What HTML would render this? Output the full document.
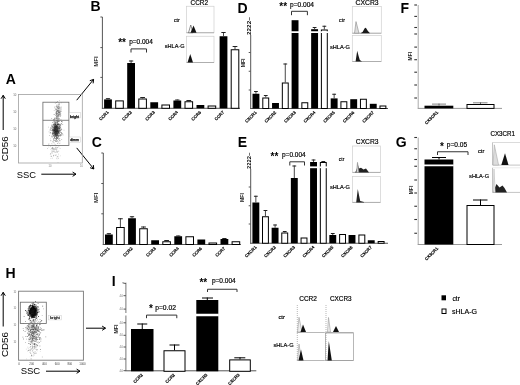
<!DOCTYPE html>
<html><head><meta charset="utf-8"><style>
html,body{margin:0;padding:0;background:#fff;}
svg{display:block;will-change:transform;}
svg text{font-family:"Liberation Sans",sans-serif;}
</style></head><body>
<svg width="520" height="385" viewBox="0 0 520 385">
<rect width="520" height="385" fill="#fff"/>
<text x="5.8" y="84.2" font-size="14" text-anchor="start" font-weight="bold" fill="#000">A</text>
<text x="90.6" y="11.2" font-size="14" text-anchor="start" font-weight="bold" fill="#000">B</text>
<text x="91.8" y="147.4" font-size="14" text-anchor="start" font-weight="bold" fill="#000">C</text>
<text x="237.6" y="12.6" font-size="14" text-anchor="start" font-weight="bold" fill="#000">D</text>
<text x="237.8" y="147.2" font-size="14" text-anchor="start" font-weight="bold" fill="#000">E</text>
<text x="400.4" y="12.6" font-size="14" text-anchor="start" font-weight="bold" fill="#000">F</text>
<text x="395.8" y="147.2" font-size="14" text-anchor="start" font-weight="bold" fill="#000">G</text>
<text x="5.6" y="277.5" font-size="14" text-anchor="start" font-weight="bold" fill="#000">H</text>
<text x="111.7" y="286" font-size="14" text-anchor="start" font-weight="bold" fill="#000">I</text>
<line x1="102.4" y1="17" x2="102.4" y2="108.8" stroke="#555" stroke-width="1"/>
<line x1="101.9" y1="108.3" x2="240" y2="108.3" stroke="#555" stroke-width="1"/>
<line x1="100.4" y1="17" x2="102.4" y2="17" stroke="#555" stroke-width="1"/>
<line x1="100.4" y1="47.6" x2="102.4" y2="47.6" stroke="#555" stroke-width="1"/>
<line x1="100.4" y1="77.4" x2="102.4" y2="77.4" stroke="#555" stroke-width="1"/>
<rect x="104.1" y="99.4" width="7.8" height="8.899999999999991" fill="#000" stroke="none" stroke-width="1"/>
<line x1="108.0" y1="98.2" x2="108.0" y2="99.4" stroke="#333" stroke-width="0.9"/>
<line x1="105.855" y1="98.7" x2="110.145" y2="98.7" stroke="#222" stroke-width="1"/>
<rect x="115.7" y="100.9" width="7.6" height="7.3999999999999915" fill="#fff" stroke="#000" stroke-width="1"/>
<text x="109.0" y="112.6" font-size="4.3" text-anchor="end" font-weight="bold" stroke="#000" stroke-width="0.12" transform="rotate(-45 109.0 112.6)">CCR1</text>
<rect x="127.19999999999999" y="63" width="7.8" height="45.3" fill="#000" stroke="none" stroke-width="1"/>
<line x1="131.1" y1="60.5" x2="131.1" y2="63" stroke="#333" stroke-width="0.9"/>
<line x1="128.95499999999998" y1="61.0" x2="133.245" y2="61.0" stroke="#222" stroke-width="1"/>
<rect x="138.8" y="99.0" width="7.6" height="9.299999999999997" fill="#fff" stroke="#000" stroke-width="1"/>
<line x1="142.60000000000002" y1="97" x2="142.60000000000002" y2="98.5" stroke="#333" stroke-width="0.9"/>
<line x1="140.235" y1="97.5" x2="144.96500000000003" y2="97.5" stroke="#222" stroke-width="1"/>
<text x="132.1" y="112.6" font-size="4.3" text-anchor="end" font-weight="bold" stroke="#000" stroke-width="0.12" transform="rotate(-45 132.1 112.6)">CCR2</text>
<rect x="150.3" y="102.25" width="7.8" height="6.049999999999997" fill="#000" stroke="none" stroke-width="1"/>
<rect x="161.9" y="105.0" width="7.6" height="3.299999999999997" fill="#fff" stroke="#000" stroke-width="1"/>
<text x="155.20000000000002" y="112.6" font-size="4.3" text-anchor="end" font-weight="bold" stroke="#000" stroke-width="0.12" transform="rotate(-45 155.20000000000002 112.6)">CCR3</text>
<rect x="173.4" y="100.5" width="7.8" height="7.799999999999997" fill="#000" stroke="none" stroke-width="1"/>
<line x1="177.3" y1="99.5" x2="177.3" y2="100.5" stroke="#333" stroke-width="0.9"/>
<line x1="175.155" y1="100.0" x2="179.44500000000002" y2="100.0" stroke="#222" stroke-width="1"/>
<rect x="185.0" y="101.75" width="7.6" height="6.549999999999997" fill="#fff" stroke="#000" stroke-width="1"/>
<line x1="188.8" y1="100" x2="188.8" y2="101.25" stroke="#333" stroke-width="0.9"/>
<line x1="186.435" y1="100.5" x2="191.16500000000002" y2="100.5" stroke="#222" stroke-width="1"/>
<text x="178.3" y="112.6" font-size="4.3" text-anchor="end" font-weight="bold" stroke="#000" stroke-width="0.12" transform="rotate(-45 178.3 112.6)">CCR4</text>
<rect x="196.5" y="105" width="7.8" height="3.299999999999997" fill="#000" stroke="none" stroke-width="1"/>
<rect x="208.10000000000002" y="106.0" width="7.6" height="2.299999999999997" fill="#fff" stroke="#000" stroke-width="1"/>
<text x="201.4" y="112.6" font-size="4.3" text-anchor="end" font-weight="bold" stroke="#000" stroke-width="0.12" transform="rotate(-45 201.4 112.6)">CCR6</text>
<rect x="219.6" y="36.25" width="7.8" height="72.05" fill="#000" stroke="none" stroke-width="1"/>
<line x1="223.5" y1="32" x2="223.5" y2="36.25" stroke="#333" stroke-width="0.9"/>
<line x1="221.355" y1="32.5" x2="225.645" y2="32.5" stroke="#222" stroke-width="1"/>
<rect x="231.2" y="49.75" width="7.6" height="58.55" fill="#fff" stroke="#000" stroke-width="1"/>
<line x1="235.0" y1="46" x2="235.0" y2="49.25" stroke="#333" stroke-width="0.9"/>
<line x1="232.635" y1="46.5" x2="237.365" y2="46.5" stroke="#222" stroke-width="1"/>
<text x="224.5" y="112.6" font-size="4.3" text-anchor="end" font-weight="bold" stroke="#000" stroke-width="0.12" transform="rotate(-45 224.5 112.6)">CCR7</text>
<text x="97.9" y="61.5" font-size="6" text-anchor="middle" font-weight="bold" fill="#222" transform="rotate(-90 97.9 61.5)">MFI</text>
<line x1="103.30000000000001" y1="153" x2="103.30000000000001" y2="245.0" stroke="#555" stroke-width="1"/>
<line x1="102.80000000000001" y1="244.5" x2="240.9" y2="244.5" stroke="#555" stroke-width="1"/>
<line x1="101.30000000000001" y1="153" x2="103.30000000000001" y2="153" stroke="#555" stroke-width="1"/>
<line x1="101.30000000000001" y1="183.5" x2="103.30000000000001" y2="183.5" stroke="#555" stroke-width="1"/>
<line x1="101.30000000000001" y1="213.8" x2="103.30000000000001" y2="213.8" stroke="#555" stroke-width="1"/>
<rect x="105.0" y="234.5" width="7.8" height="10.0" fill="#000" stroke="none" stroke-width="1"/>
<line x1="108.9" y1="233.2" x2="108.9" y2="234.5" stroke="#333" stroke-width="0.9"/>
<line x1="106.75500000000001" y1="233.7" x2="111.045" y2="233.7" stroke="#222" stroke-width="1"/>
<rect x="116.60000000000001" y="227.5" width="7.6" height="17.0" fill="#fff" stroke="#000" stroke-width="1"/>
<line x1="120.4" y1="218.25" x2="120.4" y2="227" stroke="#333" stroke-width="0.9"/>
<line x1="118.03500000000001" y1="218.75" x2="122.765" y2="218.75" stroke="#222" stroke-width="1"/>
<text x="109.9" y="248.8" font-size="4.3" text-anchor="end" font-weight="bold" stroke="#000" stroke-width="0.12" transform="rotate(-45 109.9 248.8)">CCR1</text>
<rect x="128.1" y="218.25" width="7.8" height="26.25" fill="#000" stroke="none" stroke-width="1"/>
<line x1="132.0" y1="216.25" x2="132.0" y2="218.25" stroke="#333" stroke-width="0.9"/>
<line x1="129.855" y1="216.75" x2="134.145" y2="216.75" stroke="#222" stroke-width="1"/>
<rect x="139.70000000000002" y="228.75" width="7.6" height="15.75" fill="#fff" stroke="#000" stroke-width="1"/>
<line x1="143.50000000000003" y1="226.5" x2="143.50000000000003" y2="228.25" stroke="#333" stroke-width="0.9"/>
<line x1="141.13500000000002" y1="227.0" x2="145.86500000000004" y2="227.0" stroke="#222" stroke-width="1"/>
<text x="133.0" y="248.8" font-size="4.3" text-anchor="end" font-weight="bold" stroke="#000" stroke-width="0.12" transform="rotate(-45 133.0 248.8)">CCR2</text>
<rect x="151.20000000000002" y="240.25" width="7.8" height="4.25" fill="#000" stroke="none" stroke-width="1"/>
<rect x="162.8" y="241.75" width="7.6" height="2.75" fill="#fff" stroke="#000" stroke-width="1"/>
<line x1="166.60000000000002" y1="240" x2="166.60000000000002" y2="241.25" stroke="#333" stroke-width="0.9"/>
<line x1="164.235" y1="240.5" x2="168.96500000000003" y2="240.5" stroke="#222" stroke-width="1"/>
<text x="156.10000000000002" y="248.8" font-size="4.3" text-anchor="end" font-weight="bold" stroke="#000" stroke-width="0.12" transform="rotate(-45 156.10000000000002 248.8)">CCR3</text>
<rect x="174.3" y="236.25" width="7.8" height="8.25" fill="#000" stroke="none" stroke-width="1"/>
<line x1="178.20000000000002" y1="235.5" x2="178.20000000000002" y2="236.25" stroke="#333" stroke-width="0.9"/>
<line x1="176.055" y1="236.0" x2="180.34500000000003" y2="236.0" stroke="#222" stroke-width="1"/>
<rect x="185.9" y="236.75" width="7.6" height="7.75" fill="#fff" stroke="#000" stroke-width="1"/>
<text x="179.20000000000002" y="248.8" font-size="4.3" text-anchor="end" font-weight="bold" stroke="#000" stroke-width="0.12" transform="rotate(-45 179.20000000000002 248.8)">CCR4</text>
<rect x="197.4" y="239.5" width="7.8" height="5.0" fill="#000" stroke="none" stroke-width="1"/>
<rect x="209.00000000000003" y="243.0" width="7.6" height="1.5" fill="#fff" stroke="#000" stroke-width="1"/>
<text x="202.3" y="248.8" font-size="4.3" text-anchor="end" font-weight="bold" stroke="#000" stroke-width="0.12" transform="rotate(-45 202.3 248.8)">CCR6</text>
<rect x="220.5" y="239" width="7.8" height="5.5" fill="#000" stroke="none" stroke-width="1"/>
<line x1="224.4" y1="238" x2="224.4" y2="239" stroke="#333" stroke-width="0.9"/>
<line x1="222.255" y1="238.5" x2="226.54500000000002" y2="238.5" stroke="#222" stroke-width="1"/>
<rect x="232.1" y="241.75" width="7.6" height="2.75" fill="#fff" stroke="#000" stroke-width="1"/>
<text x="225.4" y="248.8" font-size="4.3" text-anchor="end" font-weight="bold" stroke="#000" stroke-width="0.12" transform="rotate(-45 225.4 248.8)">CCR7</text>
<text x="97.9" y="197.8" font-size="6" text-anchor="middle" font-weight="bold" fill="#222" transform="rotate(-90 97.9 197.8)">MFI</text>
<text x="118.2" y="46.3" font-size="10" font-weight="bold">**</text>
<text x="129.2" y="43.6" font-size="6.4" textLength="23.6" lengthAdjust="spacingAndGlyphs" stroke="#000" stroke-width="0.18">p=0.004</text>
<path d="M131.0 52.5 V48.9 H146.5 V52.5" fill="none" stroke="#333" stroke-width="1"/>
<line x1="250.7" y1="35" x2="250.7" y2="109.0" stroke="#555" stroke-width="1"/>
<line x1="250.2" y1="108.5" x2="388" y2="108.5" stroke="#555" stroke-width="1"/>
<line x1="248.7" y1="52.5" x2="250.7" y2="52.5" stroke="#555" stroke-width="1"/>
<line x1="248.7" y1="71.25" x2="250.7" y2="71.25" stroke="#555" stroke-width="1"/>
<line x1="248.7" y1="90" x2="250.7" y2="90" stroke="#555" stroke-width="1"/>
<text x="251.3" y="26.0" font-size="5" font-weight="bold" text-anchor="middle" transform="rotate(-90 251.3 26.0)" textLength="18" lengthAdjust="spacingAndGlyphs">2222~</text>
<rect x="252.5" y="93.75" width="6.9" height="14.75" fill="#000" stroke="none" stroke-width="1"/>
<line x1="255.95" y1="91" x2="255.95" y2="93.75" stroke="#333" stroke-width="0.9"/>
<line x1="254.05249999999998" y1="91.5" x2="257.84749999999997" y2="91.5" stroke="#222" stroke-width="1"/>
<rect x="262.8" y="98.0" width="5.9" height="10.5" fill="#fff" stroke="#000" stroke-width="1"/>
<line x1="265.75" y1="95" x2="265.75" y2="97.5" stroke="#333" stroke-width="0.9"/>
<line x1="263.8525" y1="95.5" x2="267.6475" y2="95.5" stroke="#222" stroke-width="1"/>
<text x="257.0" y="112.8" font-size="4.3" text-anchor="end" font-weight="bold" stroke="#000" stroke-width="0.12" transform="rotate(-45 257.0 112.8)">CXCR1</text>
<rect x="272.05" y="103" width="6.9" height="5.5" fill="#000" stroke="none" stroke-width="1"/>
<rect x="282.33000000000004" y="83.0" width="5.9" height="25.5" fill="#fff" stroke="#000" stroke-width="1"/>
<line x1="285.28000000000003" y1="63.5" x2="285.28000000000003" y2="82.5" stroke="#333" stroke-width="0.9"/>
<line x1="283.38250000000005" y1="64.0" x2="287.1775" y2="64.0" stroke="#222" stroke-width="1"/>
<text x="276.55" y="112.8" font-size="4.3" text-anchor="end" font-weight="bold" stroke="#000" stroke-width="0.12" transform="rotate(-45 276.55 112.8)">CXCR2</text>
<rect x="291.6" y="20.2" width="6.9" height="88.3" fill="#000" stroke="none" stroke-width="1"/>
<rect x="291.1" y="31.25" width="7.9" height="1.75" fill="#fff" stroke="none" stroke-width="1"/>
<rect x="301.86" y="102.75" width="5.9" height="5.75" fill="#fff" stroke="#000" stroke-width="1"/>
<text x="296.1" y="112.8" font-size="4.3" text-anchor="end" font-weight="bold" stroke="#000" stroke-width="0.12" transform="rotate(-45 296.1 112.8)">CXCR3</text>
<rect x="311.15" y="29.2" width="6.9" height="79.3" fill="#000" stroke="none" stroke-width="1"/>
<line x1="314.59999999999997" y1="27" x2="314.59999999999997" y2="29.2" stroke="#333" stroke-width="0.9"/>
<line x1="312.7025" y1="27.5" x2="316.49749999999995" y2="27.5" stroke="#222" stroke-width="1"/>
<rect x="310.65" y="31.25" width="7.9" height="1.75" fill="#fff" stroke="none" stroke-width="1"/>
<rect x="321.39" y="30.0" width="5.9" height="78.5" fill="#fff" stroke="#000" stroke-width="1"/>
<line x1="324.34" y1="25.75" x2="324.34" y2="29.5" stroke="#333" stroke-width="0.9"/>
<line x1="322.4425" y1="26.25" x2="326.23749999999995" y2="26.25" stroke="#222" stroke-width="1"/>
<rect x="320.39" y="31.25" width="7.9" height="1.75" fill="#fff" stroke="none" stroke-width="1"/>
<text x="315.65" y="112.8" font-size="4.3" text-anchor="end" font-weight="bold" stroke="#000" stroke-width="0.12" transform="rotate(-45 315.65 112.8)">CXCR4</text>
<rect x="330.7" y="98.4" width="6.9" height="10.099999999999994" fill="#000" stroke="none" stroke-width="1"/>
<line x1="334.15" y1="93.75" x2="334.15" y2="98.4" stroke="#333" stroke-width="0.9"/>
<line x1="332.2525" y1="94.25" x2="336.04749999999996" y2="94.25" stroke="#222" stroke-width="1"/>
<rect x="340.92" y="101.75" width="5.9" height="6.75" fill="#fff" stroke="#000" stroke-width="1"/>
<text x="335.2" y="112.8" font-size="4.3" text-anchor="end" font-weight="bold" stroke="#000" stroke-width="0.12" transform="rotate(-45 335.2 112.8)">CXCR5</text>
<rect x="350.25" y="99.2" width="6.9" height="9.299999999999997" fill="#000" stroke="none" stroke-width="1"/>
<rect x="360.45000000000005" y="99.25" width="5.9" height="9.25" fill="#fff" stroke="#000" stroke-width="1"/>
<text x="354.75" y="112.8" font-size="4.3" text-anchor="end" font-weight="bold" stroke="#000" stroke-width="0.12" transform="rotate(-45 354.75 112.8)">CXCR6</text>
<rect x="369.8" y="103.8" width="6.9" height="4.700000000000003" fill="#000" stroke="none" stroke-width="1"/>
<rect x="379.98" y="106.0" width="5.9" height="2.5" fill="#fff" stroke="#000" stroke-width="1"/>
<text x="374.3" y="112.8" font-size="4.3" text-anchor="end" font-weight="bold" stroke="#000" stroke-width="0.12" transform="rotate(-45 374.3 112.8)">CXCR7</text>
<text x="245.3" y="62.9" font-size="5.2" text-anchor="middle" font-weight="bold" fill="#222" transform="rotate(-90 245.3 62.9)">MFI</text>
<line x1="250.7" y1="169" x2="250.7" y2="243.75" stroke="#555" stroke-width="1"/>
<line x1="250.2" y1="243.25" x2="388" y2="243.25" stroke="#555" stroke-width="1"/>
<line x1="248.7" y1="187" x2="250.7" y2="187" stroke="#555" stroke-width="1"/>
<line x1="248.7" y1="205.75" x2="250.7" y2="205.75" stroke="#555" stroke-width="1"/>
<line x1="248.7" y1="224" x2="250.7" y2="224" stroke="#555" stroke-width="1"/>
<text x="251.3" y="160.75" font-size="5" font-weight="bold" text-anchor="middle" transform="rotate(-90 251.3 160.75)" textLength="16.5" lengthAdjust="spacingAndGlyphs">2222~</text>
<rect x="252.4" y="202.5" width="6.9" height="40.75" fill="#000" stroke="none" stroke-width="1"/>
<line x1="255.85" y1="195.75" x2="255.85" y2="202.5" stroke="#333" stroke-width="0.9"/>
<line x1="253.9525" y1="196.25" x2="257.7475" y2="196.25" stroke="#222" stroke-width="1"/>
<rect x="262.5" y="216.75" width="5.9" height="26.5" fill="#fff" stroke="#000" stroke-width="1"/>
<line x1="265.45" y1="210" x2="265.45" y2="216.25" stroke="#333" stroke-width="0.9"/>
<line x1="263.5525" y1="210.5" x2="267.34749999999997" y2="210.5" stroke="#222" stroke-width="1"/>
<text x="256.9" y="247.55" font-size="4.3" text-anchor="end" font-weight="bold" stroke="#000" stroke-width="0.12" transform="rotate(-45 256.9 247.55)">CXCR1</text>
<rect x="271.63" y="227.75" width="6.9" height="15.5" fill="#000" stroke="none" stroke-width="1"/>
<line x1="275.08" y1="224.5" x2="275.08" y2="227.75" stroke="#333" stroke-width="0.9"/>
<line x1="273.1825" y1="225.0" x2="276.97749999999996" y2="225.0" stroke="#222" stroke-width="1"/>
<rect x="281.78" y="233.0" width="5.9" height="10.25" fill="#fff" stroke="#000" stroke-width="1"/>
<line x1="284.72999999999996" y1="231" x2="284.72999999999996" y2="232.5" stroke="#333" stroke-width="0.9"/>
<line x1="282.8325" y1="231.5" x2="286.62749999999994" y2="231.5" stroke="#222" stroke-width="1"/>
<text x="276.13" y="247.55" font-size="4.3" text-anchor="end" font-weight="bold" stroke="#000" stroke-width="0.12" transform="rotate(-45 276.13 247.55)">CXCR2</text>
<rect x="290.86" y="178" width="6.9" height="65.25" fill="#000" stroke="none" stroke-width="1"/>
<line x1="294.31" y1="165.5" x2="294.31" y2="178" stroke="#333" stroke-width="0.9"/>
<line x1="292.4125" y1="166.0" x2="296.2075" y2="166.0" stroke="#222" stroke-width="1"/>
<rect x="301.06" y="238.0" width="5.9" height="5.25" fill="#fff" stroke="#000" stroke-width="1"/>
<text x="295.36" y="247.55" font-size="4.3" text-anchor="end" font-weight="bold" stroke="#000" stroke-width="0.12" transform="rotate(-45 295.36 247.55)">CXCR3</text>
<rect x="310.09000000000003" y="162" width="6.9" height="81.25" fill="#000" stroke="none" stroke-width="1"/>
<line x1="313.54" y1="159.5" x2="313.54" y2="162" stroke="#333" stroke-width="0.9"/>
<line x1="311.64250000000004" y1="160.0" x2="315.4375" y2="160.0" stroke="#222" stroke-width="1"/>
<rect x="309.59000000000003" y="166.4" width="7.9" height="1.799999999999983" fill="#fff" stroke="none" stroke-width="1"/>
<rect x="320.34000000000003" y="162.5" width="5.9" height="80.75" fill="#fff" stroke="#000" stroke-width="1"/>
<line x1="323.29" y1="161" x2="323.29" y2="162" stroke="#333" stroke-width="0.9"/>
<line x1="321.39250000000004" y1="161.5" x2="325.1875" y2="161.5" stroke="#222" stroke-width="1"/>
<rect x="319.34000000000003" y="166.4" width="7.9" height="1.799999999999983" fill="#fff" stroke="none" stroke-width="1"/>
<text x="314.59000000000003" y="247.55" font-size="4.3" text-anchor="end" font-weight="bold" stroke="#000" stroke-width="0.12" transform="rotate(-45 314.59000000000003 247.55)">CXCR4</text>
<rect x="329.32" y="235" width="6.9" height="8.25" fill="#000" stroke="none" stroke-width="1"/>
<line x1="332.77" y1="233" x2="332.77" y2="235" stroke="#333" stroke-width="0.9"/>
<line x1="330.8725" y1="233.5" x2="334.66749999999996" y2="233.5" stroke="#222" stroke-width="1"/>
<rect x="339.62" y="234.5" width="5.9" height="8.75" fill="#fff" stroke="#000" stroke-width="1"/>
<text x="333.82" y="247.55" font-size="4.3" text-anchor="end" font-weight="bold" stroke="#000" stroke-width="0.12" transform="rotate(-45 333.82 247.55)">CXCR5</text>
<rect x="348.55" y="235" width="6.9" height="8.25" fill="#000" stroke="none" stroke-width="1"/>
<rect x="358.9" y="235.0" width="5.9" height="8.25" fill="#fff" stroke="#000" stroke-width="1"/>
<text x="353.05" y="247.55" font-size="4.3" text-anchor="end" font-weight="bold" stroke="#000" stroke-width="0.12" transform="rotate(-45 353.05 247.55)">CXCR6</text>
<rect x="367.78" y="240.25" width="6.9" height="3.0" fill="#000" stroke="none" stroke-width="1"/>
<rect x="378.18" y="241.5" width="5.9" height="1.75" fill="#fff" stroke="#000" stroke-width="1"/>
<text x="372.28" y="247.55" font-size="4.3" text-anchor="end" font-weight="bold" stroke="#000" stroke-width="0.12" transform="rotate(-45 372.28 247.55)">CXCR7</text>
<text x="244.1" y="197.5" font-size="5.2" text-anchor="middle" font-weight="bold" fill="#222" transform="rotate(-90 244.1 197.5)">MFI</text>
<text x="279.3" y="10.2" font-size="10" font-weight="bold">**</text>
<text x="290" y="7.4" font-size="6.4" textLength="24" lengthAdjust="spacingAndGlyphs" stroke="#000" stroke-width="0.18">p=0.004</text>
<path d="M291.5 15.2 V11.3 H307.4 V15.2" fill="none" stroke="#333" stroke-width="1"/>
<text x="270.5" y="160" font-size="10" font-weight="bold">**</text>
<text x="282" y="157.2" font-size="6.4" textLength="23.6" lengthAdjust="spacingAndGlyphs" stroke="#000" stroke-width="0.18">p=0.004</text>
<path d="M289.8 165.5 V161.8 H304.5 V165.5" fill="none" stroke="#333" stroke-width="1"/>
<line x1="418.2" y1="5" x2="418.2" y2="108.4" stroke="#aaa" stroke-width="1"/>
<line x1="417.7" y1="108.4" x2="502" y2="108.4" stroke="#999" stroke-width="1"/>
<line x1="414.3" y1="5" x2="417" y2="5" stroke="#333" stroke-width="1.1"/>
<line x1="414.3" y1="16.4" x2="417" y2="16.4" stroke="#333" stroke-width="1.1"/>
<line x1="414.3" y1="27.5" x2="417" y2="27.5" stroke="#333" stroke-width="1.1"/>
<line x1="414.3" y1="34" x2="417" y2="34" stroke="#333" stroke-width="1.1"/>
<line x1="414.3" y1="47.1" x2="417" y2="47.1" stroke="#333" stroke-width="1.1"/>
<line x1="414.3" y1="59.7" x2="417" y2="59.7" stroke="#333" stroke-width="1.1"/>
<line x1="414.3" y1="72.2" x2="417" y2="72.2" stroke="#333" stroke-width="1.1"/>
<line x1="414.3" y1="85" x2="417" y2="85" stroke="#333" stroke-width="1.1"/>
<line x1="414.3" y1="98" x2="417" y2="98" stroke="#333" stroke-width="1.1"/>
<rect x="424.5" y="105.7" width="28.8" height="2.700000000000003" fill="#000" stroke="none" stroke-width="1"/>
<rect x="467.0" y="104.5" width="27" height="3.9000000000000057" fill="#fff" stroke="#000" stroke-width="1"/>
<line x1="439" y1="103.6" x2="439" y2="105.7" stroke="#666" stroke-width="1"/>
<line x1="432" y1="104.1" x2="446" y2="104.1" stroke="#666" stroke-width="0.8"/>
<line x1="480.5" y1="102.3" x2="480.5" y2="104" stroke="#666" stroke-width="1"/>
<line x1="473" y1="102.8" x2="487.5" y2="102.8" stroke="#666" stroke-width="0.8"/>
<text x="438.5" y="112.7" font-size="4.3" text-anchor="end" font-weight="bold" stroke="#000" stroke-width="0.12" transform="rotate(-45 438.5 112.7)">CX3CR1</text>
<text x="412.5" y="56.2" font-size="5" text-anchor="middle" font-weight="bold" fill="#222" transform="rotate(-90 412.5 56.2)">MFI</text>
<line x1="418.2" y1="137.5" x2="418.2" y2="244.5" stroke="#aaa" stroke-width="1"/>
<line x1="417.7" y1="244.5" x2="502" y2="244.5" stroke="#999" stroke-width="1"/>
<line x1="414.3" y1="137.5" x2="417" y2="137.5" stroke="#333" stroke-width="1.1"/>
<line x1="414.3" y1="148.75" x2="417" y2="148.75" stroke="#333" stroke-width="1.1"/>
<line x1="414.3" y1="159.5" x2="417" y2="159.5" stroke="#333" stroke-width="1.1"/>
<line x1="414.3" y1="166.25" x2="417" y2="166.25" stroke="#333" stroke-width="1.1"/>
<line x1="414.3" y1="180" x2="417" y2="180" stroke="#333" stroke-width="1.1"/>
<line x1="414.3" y1="193" x2="417" y2="193" stroke="#333" stroke-width="1.1"/>
<line x1="414.3" y1="206.25" x2="417" y2="206.25" stroke="#333" stroke-width="1.1"/>
<line x1="414.3" y1="219.5" x2="417" y2="219.5" stroke="#333" stroke-width="1.1"/>
<line x1="414.3" y1="233.25" x2="417" y2="233.25" stroke="#333" stroke-width="1.1"/>
<rect x="424.5" y="159.5" width="28.8" height="85.0" fill="#000" stroke="none" stroke-width="1"/>
<rect x="424.0" y="164.5" width="29.8" height="1.75" fill="#fff" stroke="none" stroke-width="1"/>
<rect x="467.0" y="205.5" width="27" height="39.0" fill="#fff" stroke="#000" stroke-width="1"/>
<line x1="439" y1="157" x2="439" y2="159.5" stroke="#000" stroke-width="1"/>
<line x1="432" y1="157.5" x2="446" y2="157.5" stroke="#000" stroke-width="1"/>
<line x1="480.5" y1="199.5" x2="480.5" y2="205" stroke="#000" stroke-width="1"/>
<line x1="473" y1="200.0" x2="487.5" y2="200.0" stroke="#000" stroke-width="1"/>
<text x="438.5" y="248.8" font-size="4.3" text-anchor="end" font-weight="bold" stroke="#000" stroke-width="0.12" transform="rotate(-45 438.5 248.8)">CX3CR1</text>
<text x="413" y="190" font-size="5" text-anchor="middle" font-weight="bold" fill="#222" transform="rotate(-90 413 190)">MFI</text>
<text x="440" y="150.2" font-size="10" font-weight="bold">*</text>
<text x="446.8" y="147.4" font-size="6.4" textLength="20.3" lengthAdjust="spacingAndGlyphs" stroke="#000" stroke-width="0.18">p=0.05</text>
<path d="M437.5 155 V151.75 H468.0 V155" fill="none" stroke="#333" stroke-width="1"/>
<line x1="125.9" y1="282.6" x2="125.9" y2="313" stroke="#777" stroke-width="1"/>
<line x1="125.9" y1="315.5" x2="125.9" y2="371" stroke="#777" stroke-width="1"/>
<line x1="122.5" y1="282.8" x2="125.9" y2="283.6" stroke="#555" stroke-width="1"/>
<line x1="123.5" y1="295.7" x2="125.9" y2="295.7" stroke="#555" stroke-width="1"/>
<text x="123" y="296.59999999999997" font-size="2.6" text-anchor="end" fill="#666">4.0</text>
<line x1="123.5" y1="309.1" x2="125.9" y2="309.1" stroke="#555" stroke-width="1"/>
<text x="123" y="310.0" font-size="2.6" text-anchor="end" fill="#666">4.0</text>
<line x1="123.5" y1="322.8" x2="125.9" y2="322.8" stroke="#555" stroke-width="1"/>
<text x="123" y="323.7" font-size="2.6" text-anchor="end" fill="#666">4.0</text>
<line x1="123.5" y1="335.3" x2="125.9" y2="335.3" stroke="#555" stroke-width="1"/>
<text x="123" y="336.2" font-size="2.6" text-anchor="end" fill="#666">4.0</text>
<line x1="123.5" y1="347" x2="125.9" y2="347" stroke="#555" stroke-width="1"/>
<text x="123" y="347.9" font-size="2.6" text-anchor="end" fill="#666">4.0</text>
<line x1="123.5" y1="359" x2="125.9" y2="359" stroke="#555" stroke-width="1"/>
<text x="123" y="359.9" font-size="2.6" text-anchor="end" fill="#666">4.0</text>
<line x1="123.5" y1="370.7" x2="125.9" y2="370.7" stroke="#555" stroke-width="1"/>
<text x="123" y="371.59999999999997" font-size="2.6" text-anchor="end" fill="#666">4.0</text>
<line x1="125.5" y1="370.8" x2="256.3" y2="370.8" stroke="#555" stroke-width="1"/>
<rect x="131" y="329" width="22.5" height="42.30000000000001" fill="#000" stroke="none" stroke-width="1"/>
<line x1="142.25" y1="323.5" x2="142.25" y2="329" stroke="#000" stroke-width="1"/>
<line x1="137.25" y1="324" x2="147.25" y2="324" stroke="#000" stroke-width="1"/>
<rect x="164.0" y="350.75" width="21" height="20.55000000000001" fill="#fff" stroke="#000" stroke-width="1"/>
<line x1="174.5" y1="344.5" x2="174.5" y2="350.25" stroke="#000" stroke-width="1"/>
<line x1="169.5" y1="345" x2="179.5" y2="345" stroke="#000" stroke-width="1"/>
<rect x="196.3" y="300" width="22" height="71.30000000000001" fill="#000" stroke="none" stroke-width="1"/>
<rect x="195.8" y="313.75" width="23" height="2.5" fill="#fff" stroke="none" stroke-width="1"/>
<line x1="207.3" y1="297.5" x2="207.3" y2="300" stroke="#000" stroke-width="1"/>
<line x1="202" y1="298" x2="213" y2="298" stroke="#000" stroke-width="1"/>
<rect x="229.7" y="359.9" width="20.6" height="11.400000000000034" fill="#fff" stroke="#000" stroke-width="1"/>
<line x1="240" y1="357.3" x2="240" y2="359.4" stroke="#000" stroke-width="1"/>
<line x1="234.3" y1="357.8" x2="245.3" y2="357.8" stroke="#000" stroke-width="1"/>
<text x="117.5" y="329" font-size="5.2" text-anchor="middle" font-weight="bold" fill="#222" transform="rotate(-90 117.5 329)">MFI</text>
<text x="143.2" y="375.2" font-size="4.3" text-anchor="end" font-weight="bold" stroke="#000" stroke-width="0.12" transform="rotate(-45 143.2 375.2)">CCR2</text>
<text x="175.3" y="375.2" font-size="4.3" text-anchor="end" font-weight="bold" stroke="#000" stroke-width="0.12" transform="rotate(-45 175.3 375.2)">CCR2</text>
<text x="207.8" y="375.2" font-size="4.3" text-anchor="end" font-weight="bold" stroke="#000" stroke-width="0.12" transform="rotate(-45 207.8 375.2)">CXCR3</text>
<text x="240" y="375.2" font-size="4.3" text-anchor="end" font-weight="bold" stroke="#000" stroke-width="0.12" transform="rotate(-45 240 375.2)">CXCR3</text>
<text x="148.9" y="311.9" font-size="10" font-weight="bold">*</text>
<text x="155.2" y="309.5" font-size="6.4" textLength="20.8" lengthAdjust="spacingAndGlyphs" stroke="#000" stroke-width="0.18">p=0.02</text>
<path d="M146.5 318.2 V315.1 H176.8 V318.2" fill="none" stroke="#333" stroke-width="1"/>
<text x="199.4" y="286" font-size="10" font-weight="bold">**</text>
<text x="211.9" y="283.2" font-size="6.4" textLength="23.8" lengthAdjust="spacingAndGlyphs" stroke="#000" stroke-width="0.18">p=0.004</text>
<path d="M207.5 292 V289.25 H237.0 V292" fill="none" stroke="#333" stroke-width="1"/>
<rect x="441.5" y="295.3" width="4.5" height="5" fill="#000" stroke="none" stroke-width="1"/>
<rect x="442" y="309" width="4" height="4.5" fill="#fff" stroke="#000" stroke-width="1"/>
<text x="452.5" y="300.8" font-size="7" textLength="7.5" lengthAdjust="spacingAndGlyphs" stroke="#000" stroke-width="0.18">ctr</text>
<text x="452" y="314.2" font-size="7" textLength="25" lengthAdjust="spacingAndGlyphs" stroke="#000" stroke-width="0.18">sHLA-G</text>
<path d="M76.7 100.2 L93.6 79.4 M93.11 83.37 L93.6 79.4 L89.82 80.70" fill="none" stroke="#000" stroke-width="1"/>
<path d="M76.7 147.9 L93.8 169 M90.02 167.70 L93.8 169 L93.31 165.03" fill="none" stroke="#000" stroke-width="1"/>
<path d="M3.2 130 L3.2 95.3 M5.32 98.69 L3.2 95.3 L1.08 98.69" fill="none" stroke="#000" stroke-width="1"/>
<path d="M41.3 174.2 L76 174.2 M72.61 176.32 L76 174.2 L72.61 172.08" fill="none" stroke="#000" stroke-width="1"/>
<path d="M3.2 326.5 L3.2 292.3 M5.32 295.69 L3.2 292.3 L1.08 295.69" fill="none" stroke="#000" stroke-width="1"/>
<path d="M46 371.2 L80 371.2 M76.61 373.32 L80 371.2 L76.61 369.08" fill="none" stroke="#000" stroke-width="1"/>
<path d="M86 328.2 L105.5 328.2 M102.11 330.32 L105.5 328.2 L102.11 326.08" fill="none" stroke="#000" stroke-width="1"/>
<text x="7.7" y="148.8" font-size="9.8" text-anchor="middle" fill="#000" transform="rotate(-90 7.7 148.8)">CD56</text>
<text x="7.6" y="344.6" font-size="9.8" text-anchor="middle" fill="#000" transform="rotate(-90 7.6 344.6)">CD56</text>
<text x="16.7" y="177.5" font-size="9.4" text-anchor="start" fill="#000">SSC</text>
<text x="20.7" y="374.4" font-size="9.5" text-anchor="start" fill="#000">SSC</text>
<rect x="18.5" y="94.5" width="63.8" height="68.5" fill="none" stroke="#a0a0a0" stroke-width="0.8"/>
<text x="16.3" y="95.5" font-size="2.8" text-anchor="end" fill="#666">10</text>
<text x="16.3" y="113" font-size="2.8" text-anchor="end" fill="#666">10</text>
<text x="16.3" y="129.75" font-size="2.8" text-anchor="end" fill="#666">10</text>
<text x="16.3" y="146.6" font-size="2.8" text-anchor="end" fill="#666">10</text>
<text x="50" y="166.8" font-size="2.6" text-anchor="middle" fill="#777">10</text>
<text x="81.5" y="166.8" font-size="2.6" text-anchor="middle" fill="#777">10</text>
<path d="M53.2 131.9h0.8v0.8h-0.8zM62.3 133.7h0.8v0.8h-0.8zM53.6 131.2h0.8v0.8h-0.8zM63.6 129.8h0.8v0.8h-0.8zM57.8 132.3h0.8v0.8h-0.8zM56.4 133.9h0.8v0.8h-0.8zM56.6 126.0h0.8v0.8h-0.8zM56.6 134.9h0.8v0.8h-0.8zM55.3 128.2h0.8v0.8h-0.8zM57.4 137.6h0.8v0.8h-0.8zM57.9 141.6h0.8v0.8h-0.8zM55.5 126.3h0.8v0.8h-0.8zM56.4 130.2h0.8v0.8h-0.8zM52.4 127.7h0.8v0.8h-0.8zM52.8 130.1h0.8v0.8h-0.8zM56.8 135.0h0.8v0.8h-0.8zM51.6 130.2h0.8v0.8h-0.8zM54.0 130.2h0.8v0.8h-0.8zM55.5 130.3h0.8v0.8h-0.8zM53.7 122.5h0.8v0.8h-0.8zM52.9 132.0h0.8v0.8h-0.8zM53.9 134.5h0.8v0.8h-0.8zM57.1 140.4h0.8v0.8h-0.8zM53.8 139.9h0.8v0.8h-0.8zM52.3 129.2h0.8v0.8h-0.8zM54.2 125.3h0.8v0.8h-0.8zM51.1 136.5h0.8v0.8h-0.8zM52.1 133.7h0.8v0.8h-0.8zM57.9 124.5h0.8v0.8h-0.8zM56.4 138.2h0.8v0.8h-0.8zM57.4 128.4h0.8v0.8h-0.8zM56.6 133.1h0.8v0.8h-0.8zM59.6 130.6h0.8v0.8h-0.8zM55.6 129.9h0.8v0.8h-0.8zM57.1 122.6h0.8v0.8h-0.8zM49.5 129.6h0.8v0.8h-0.8zM54.8 121.9h0.8v0.8h-0.8zM59.3 129.8h0.8v0.8h-0.8zM55.4 128.9h0.8v0.8h-0.8zM62.6 134.6h0.8v0.8h-0.8zM49.7 132.7h0.8v0.8h-0.8zM48.2 126.7h0.8v0.8h-0.8zM61.1 128.6h0.8v0.8h-0.8zM53.9 136.9h0.8v0.8h-0.8zM57.0 131.1h0.8v0.8h-0.8zM54.4 131.8h0.8v0.8h-0.8zM53.7 135.3h0.8v0.8h-0.8zM60.8 124.2h0.8v0.8h-0.8zM55.0 134.6h0.8v0.8h-0.8zM56.8 124.0h0.8v0.8h-0.8zM59.3 128.5h0.8v0.8h-0.8zM57.6 123.4h0.8v0.8h-0.8zM57.5 121.1h0.8v0.8h-0.8zM55.7 140.4h0.8v0.8h-0.8zM54.4 135.3h0.8v0.8h-0.8zM60.3 130.1h0.8v0.8h-0.8zM54.7 129.5h0.8v0.8h-0.8zM54.0 133.4h0.8v0.8h-0.8zM55.3 131.1h0.8v0.8h-0.8zM53.1 134.5h0.8v0.8h-0.8zM52.0 129.5h0.8v0.8h-0.8zM56.8 127.2h0.8v0.8h-0.8zM54.8 130.6h0.8v0.8h-0.8zM62.0 121.6h0.8v0.8h-0.8zM55.1 128.5h0.8v0.8h-0.8zM58.9 143.3h0.8v0.8h-0.8zM48.6 131.4h0.8v0.8h-0.8zM53.6 129.2h0.8v0.8h-0.8zM60.6 134.6h0.8v0.8h-0.8zM50.6 130.1h0.8v0.8h-0.8zM58.2 139.1h0.8v0.8h-0.8zM55.7 125.7h0.8v0.8h-0.8zM53.6 135.3h0.8v0.8h-0.8zM55.4 128.3h0.8v0.8h-0.8zM55.3 123.6h0.8v0.8h-0.8zM55.2 128.9h0.8v0.8h-0.8zM52.1 130.6h0.8v0.8h-0.8zM57.7 130.9h0.8v0.8h-0.8zM56.1 135.6h0.8v0.8h-0.8zM54.6 133.4h0.8v0.8h-0.8zM55.8 135.0h0.8v0.8h-0.8zM56.4 122.0h0.8v0.8h-0.8zM54.1 132.8h0.8v0.8h-0.8zM54.0 125.3h0.8v0.8h-0.8zM53.1 119.2h0.8v0.8h-0.8zM52.9 131.3h0.8v0.8h-0.8zM54.0 135.0h0.8v0.8h-0.8zM58.4 138.6h0.8v0.8h-0.8zM54.0 137.3h0.8v0.8h-0.8zM55.1 123.3h0.8v0.8h-0.8zM59.0 130.6h0.8v0.8h-0.8zM55.2 137.9h0.8v0.8h-0.8zM54.5 138.4h0.8v0.8h-0.8zM55.0 124.1h0.8v0.8h-0.8zM57.5 129.9h0.8v0.8h-0.8zM53.6 130.5h0.8v0.8h-0.8zM60.3 126.3h0.8v0.8h-0.8zM57.6 130.2h0.8v0.8h-0.8zM58.8 130.4h0.8v0.8h-0.8zM57.1 129.8h0.8v0.8h-0.8zM56.9 134.3h0.8v0.8h-0.8zM56.8 128.1h0.8v0.8h-0.8zM54.3 130.2h0.8v0.8h-0.8zM52.8 120.5h0.8v0.8h-0.8zM56.8 124.3h0.8v0.8h-0.8z" fill="rgb(100,100,100)" opacity="0.45"/>
<path d="M53.3 131.3h0.8v0.8h-0.8zM52.7 129.1h0.8v0.8h-0.8zM57.3 140.6h0.8v0.8h-0.8zM57.3 135.8h0.8v0.8h-0.8zM55.3 128.0h0.8v0.8h-0.8zM54.2 127.1h0.8v0.8h-0.8zM58.6 128.5h0.8v0.8h-0.8zM57.8 130.4h0.8v0.8h-0.8zM59.8 124.1h0.8v0.8h-0.8zM57.2 120.3h0.8v0.8h-0.8zM54.4 126.5h0.8v0.8h-0.8zM53.1 135.3h0.8v0.8h-0.8zM58.8 125.9h0.8v0.8h-0.8zM55.4 126.9h0.8v0.8h-0.8zM56.1 130.7h0.8v0.8h-0.8zM54.0 136.4h0.8v0.8h-0.8zM57.6 118.5h0.8v0.8h-0.8zM55.4 131.7h0.8v0.8h-0.8zM52.3 127.3h0.8v0.8h-0.8zM53.9 118.8h0.8v0.8h-0.8zM59.6 119.4h0.8v0.8h-0.8zM54.6 128.5h0.8v0.8h-0.8zM58.7 128.8h0.8v0.8h-0.8zM56.9 123.9h0.8v0.8h-0.8zM55.7 128.3h0.8v0.8h-0.8zM55.9 127.5h0.8v0.8h-0.8zM56.0 133.3h0.8v0.8h-0.8zM53.9 131.9h0.8v0.8h-0.8zM53.8 124.8h0.8v0.8h-0.8zM52.1 129.7h0.8v0.8h-0.8zM56.5 130.9h0.8v0.8h-0.8zM61.2 134.7h0.8v0.8h-0.8zM56.2 125.6h0.8v0.8h-0.8zM54.4 126.3h0.8v0.8h-0.8zM56.7 121.0h0.8v0.8h-0.8zM56.4 121.5h0.8v0.8h-0.8zM54.4 124.5h0.8v0.8h-0.8zM56.0 140.9h0.8v0.8h-0.8zM50.0 129.4h0.8v0.8h-0.8zM54.6 130.5h0.8v0.8h-0.8zM53.5 132.9h0.8v0.8h-0.8zM60.5 134.8h0.8v0.8h-0.8zM54.8 129.5h0.8v0.8h-0.8zM58.6 133.2h0.8v0.8h-0.8zM58.7 135.3h0.8v0.8h-0.8zM54.8 132.1h0.8v0.8h-0.8zM53.1 129.4h0.8v0.8h-0.8zM54.7 119.3h0.8v0.8h-0.8zM59.2 128.1h0.8v0.8h-0.8zM55.0 121.3h0.8v0.8h-0.8zM56.4 131.6h0.8v0.8h-0.8zM56.3 137.9h0.8v0.8h-0.8zM52.0 127.2h0.8v0.8h-0.8zM55.7 140.1h0.8v0.8h-0.8zM55.8 127.8h0.8v0.8h-0.8zM50.4 132.4h0.8v0.8h-0.8zM56.7 127.0h0.8v0.8h-0.8zM55.6 127.0h0.8v0.8h-0.8zM59.3 138.1h0.8v0.8h-0.8zM55.8 125.1h0.8v0.8h-0.8zM54.7 128.7h0.8v0.8h-0.8zM57.4 125.9h0.8v0.8h-0.8zM51.4 125.6h0.8v0.8h-0.8zM59.0 125.2h0.8v0.8h-0.8zM56.0 125.7h0.8v0.8h-0.8zM57.1 131.1h0.8v0.8h-0.8zM53.7 121.3h0.8v0.8h-0.8zM56.3 127.5h0.8v0.8h-0.8zM57.1 126.0h0.8v0.8h-0.8zM54.2 118.9h0.8v0.8h-0.8zM53.4 132.2h0.8v0.8h-0.8zM53.8 122.7h0.8v0.8h-0.8zM54.4 130.2h0.8v0.8h-0.8zM55.4 130.0h0.8v0.8h-0.8zM53.5 130.1h0.8v0.8h-0.8zM58.5 126.4h0.8v0.8h-0.8zM56.2 133.8h0.8v0.8h-0.8zM55.5 129.1h0.8v0.8h-0.8zM54.4 120.6h0.8v0.8h-0.8zM55.1 134.9h0.8v0.8h-0.8zM54.5 133.0h0.8v0.8h-0.8zM55.7 132.9h0.8v0.8h-0.8zM54.8 131.3h0.8v0.8h-0.8zM52.9 130.2h0.8v0.8h-0.8zM53.2 138.6h0.8v0.8h-0.8zM52.9 127.9h0.8v0.8h-0.8zM54.1 126.0h0.8v0.8h-0.8zM55.3 132.8h0.8v0.8h-0.8zM52.2 132.6h0.8v0.8h-0.8zM57.7 131.3h0.8v0.8h-0.8zM57.4 124.3h0.8v0.8h-0.8zM57.6 128.5h0.8v0.8h-0.8zM55.8 133.6h0.8v0.8h-0.8zM57.3 131.5h0.8v0.8h-0.8zM55.4 131.0h0.8v0.8h-0.8zM56.0 125.7h0.8v0.8h-0.8zM56.4 129.4h0.8v0.8h-0.8zM61.3 139.3h0.8v0.8h-0.8zM57.6 129.2h0.8v0.8h-0.8zM57.8 123.5h0.8v0.8h-0.8zM56.4 136.7h0.8v0.8h-0.8zM53.1 132.2h0.8v0.8h-0.8zM57.2 128.8h0.8v0.8h-0.8zM55.4 115.0h0.8v0.8h-0.8zM56.0 139.1h0.8v0.8h-0.8z" fill="rgb(60,60,60)" opacity="0.45"/>
<path d="M57.1 135.5h0.8v0.8h-0.8zM59.5 134.9h0.8v0.8h-0.8zM55.8 131.9h0.8v0.8h-0.8zM56.7 131.0h0.8v0.8h-0.8zM56.4 133.8h0.8v0.8h-0.8zM51.8 126.4h0.8v0.8h-0.8zM61.0 121.1h0.8v0.8h-0.8zM54.3 125.7h0.8v0.8h-0.8zM55.7 122.2h0.8v0.8h-0.8zM57.8 127.6h0.8v0.8h-0.8zM55.3 128.7h0.8v0.8h-0.8zM60.7 129.6h0.8v0.8h-0.8zM56.0 128.8h0.8v0.8h-0.8zM54.3 130.4h0.8v0.8h-0.8zM57.6 127.2h0.8v0.8h-0.8zM56.5 135.0h0.8v0.8h-0.8zM54.3 126.1h0.8v0.8h-0.8zM55.1 127.2h0.8v0.8h-0.8zM57.4 123.5h0.8v0.8h-0.8zM58.8 129.1h0.8v0.8h-0.8zM54.1 129.3h0.8v0.8h-0.8zM57.2 125.4h0.8v0.8h-0.8zM57.6 133.6h0.8v0.8h-0.8zM57.5 130.4h0.8v0.8h-0.8zM53.6 129.5h0.8v0.8h-0.8zM57.1 135.0h0.8v0.8h-0.8zM55.7 141.0h0.8v0.8h-0.8zM59.8 123.8h0.8v0.8h-0.8zM48.5 143.6h0.8v0.8h-0.8zM59.1 131.0h0.8v0.8h-0.8zM58.8 133.1h0.8v0.8h-0.8zM54.7 133.1h0.8v0.8h-0.8zM54.3 128.5h0.8v0.8h-0.8zM57.3 130.8h0.8v0.8h-0.8zM52.2 136.8h0.8v0.8h-0.8zM50.6 128.3h0.8v0.8h-0.8zM55.1 128.5h0.8v0.8h-0.8zM53.9 127.4h0.8v0.8h-0.8zM59.1 124.5h0.8v0.8h-0.8zM54.8 133.1h0.8v0.8h-0.8zM53.2 127.3h0.8v0.8h-0.8zM54.7 124.3h0.8v0.8h-0.8zM54.7 135.6h0.8v0.8h-0.8zM55.2 126.1h0.8v0.8h-0.8zM57.4 131.6h0.8v0.8h-0.8zM57.7 132.1h0.8v0.8h-0.8zM54.7 128.8h0.8v0.8h-0.8zM58.7 132.5h0.8v0.8h-0.8zM56.8 131.0h0.8v0.8h-0.8zM56.8 128.8h0.8v0.8h-0.8zM58.4 136.5h0.8v0.8h-0.8zM56.0 133.5h0.8v0.8h-0.8zM52.8 141.2h0.8v0.8h-0.8zM53.1 130.2h0.8v0.8h-0.8zM54.9 131.3h0.8v0.8h-0.8zM58.5 134.8h0.8v0.8h-0.8zM57.1 122.4h0.8v0.8h-0.8zM54.7 129.4h0.8v0.8h-0.8zM57.2 126.7h0.8v0.8h-0.8zM55.1 135.3h0.8v0.8h-0.8zM58.8 127.8h0.8v0.8h-0.8zM56.6 131.7h0.8v0.8h-0.8zM53.5 132.6h0.8v0.8h-0.8zM56.8 122.9h0.8v0.8h-0.8zM55.0 128.1h0.8v0.8h-0.8zM54.7 130.0h0.8v0.8h-0.8zM58.8 129.5h0.8v0.8h-0.8zM56.1 136.6h0.8v0.8h-0.8zM54.9 126.4h0.8v0.8h-0.8zM55.6 128.9h0.8v0.8h-0.8zM59.6 140.0h0.8v0.8h-0.8zM53.7 131.0h0.8v0.8h-0.8zM54.6 122.2h0.8v0.8h-0.8zM55.7 131.5h0.8v0.8h-0.8zM56.6 126.7h0.8v0.8h-0.8zM56.3 137.4h0.8v0.8h-0.8zM51.6 129.7h0.8v0.8h-0.8zM56.3 127.0h0.8v0.8h-0.8zM56.2 135.4h0.8v0.8h-0.8zM54.4 121.2h0.8v0.8h-0.8zM57.6 134.3h0.8v0.8h-0.8zM59.9 129.8h0.8v0.8h-0.8zM57.2 125.9h0.8v0.8h-0.8zM49.1 135.2h0.8v0.8h-0.8zM56.5 133.9h0.8v0.8h-0.8zM57.9 129.4h0.8v0.8h-0.8zM57.4 128.3h0.8v0.8h-0.8zM54.6 130.5h0.8v0.8h-0.8zM55.1 123.9h0.8v0.8h-0.8zM56.4 123.0h0.8v0.8h-0.8zM56.2 135.8h0.8v0.8h-0.8zM55.2 122.5h0.8v0.8h-0.8zM54.7 133.0h0.8v0.8h-0.8zM56.7 125.2h0.8v0.8h-0.8zM57.2 129.5h0.8v0.8h-0.8zM55.5 134.9h0.8v0.8h-0.8zM54.8 128.9h0.8v0.8h-0.8zM51.9 133.3h0.8v0.8h-0.8zM57.4 121.1h0.8v0.8h-0.8zM55.9 123.7h0.8v0.8h-0.8zM57.5 127.0h0.8v0.8h-0.8zM55.0 127.3h0.8v0.8h-0.8zM59.4 123.6h0.8v0.8h-0.8zM55.4 129.9h0.8v0.8h-0.8zM60.3 134.0h0.8v0.8h-0.8z" fill="rgb(80,80,80)" opacity="0.45"/>
<path d="M56.3 127.9h0.8v0.8h-0.8zM54.7 125.3h0.8v0.8h-0.8zM55.5 125.8h0.8v0.8h-0.8zM52.4 135.7h0.8v0.8h-0.8zM53.3 123.7h0.8v0.8h-0.8zM56.1 127.5h0.8v0.8h-0.8zM58.6 133.5h0.8v0.8h-0.8zM59.6 125.0h0.8v0.8h-0.8zM61.7 133.1h0.8v0.8h-0.8zM55.8 128.1h0.8v0.8h-0.8zM55.0 141.0h0.8v0.8h-0.8zM57.3 131.2h0.8v0.8h-0.8zM54.9 128.8h0.8v0.8h-0.8zM56.0 130.8h0.8v0.8h-0.8zM60.1 124.7h0.8v0.8h-0.8zM54.6 118.1h0.8v0.8h-0.8zM57.2 134.8h0.8v0.8h-0.8zM55.2 123.7h0.8v0.8h-0.8zM55.7 126.9h0.8v0.8h-0.8zM53.1 124.5h0.8v0.8h-0.8zM56.4 127.1h0.8v0.8h-0.8zM56.9 129.3h0.8v0.8h-0.8zM54.2 128.4h0.8v0.8h-0.8zM58.8 121.1h0.8v0.8h-0.8zM56.5 137.5h0.8v0.8h-0.8zM54.7 129.5h0.8v0.8h-0.8zM57.6 127.5h0.8v0.8h-0.8zM56.9 128.3h0.8v0.8h-0.8zM55.8 128.1h0.8v0.8h-0.8zM55.7 130.1h0.8v0.8h-0.8zM53.9 124.6h0.8v0.8h-0.8zM59.2 127.5h0.8v0.8h-0.8zM55.9 130.8h0.8v0.8h-0.8zM49.9 131.9h0.8v0.8h-0.8zM54.7 125.2h0.8v0.8h-0.8zM56.0 126.8h0.8v0.8h-0.8zM56.8 130.4h0.8v0.8h-0.8zM54.2 134.1h0.8v0.8h-0.8zM53.2 124.0h0.8v0.8h-0.8zM58.1 127.5h0.8v0.8h-0.8zM53.7 136.3h0.8v0.8h-0.8zM52.2 133.4h0.8v0.8h-0.8zM57.4 127.7h0.8v0.8h-0.8zM54.5 133.6h0.8v0.8h-0.8zM52.1 128.9h0.8v0.8h-0.8zM56.7 135.0h0.8v0.8h-0.8zM56.8 129.7h0.8v0.8h-0.8zM57.1 132.0h0.8v0.8h-0.8zM56.2 133.2h0.8v0.8h-0.8zM57.8 137.4h0.8v0.8h-0.8zM59.9 127.1h0.8v0.8h-0.8zM53.3 129.0h0.8v0.8h-0.8zM59.4 129.6h0.8v0.8h-0.8zM58.6 130.4h0.8v0.8h-0.8zM56.7 132.4h0.8v0.8h-0.8zM51.3 118.0h0.8v0.8h-0.8zM56.4 128.1h0.8v0.8h-0.8zM53.4 135.5h0.8v0.8h-0.8zM60.1 129.5h0.8v0.8h-0.8zM54.6 127.2h0.8v0.8h-0.8zM54.1 129.0h0.8v0.8h-0.8zM53.3 134.6h0.8v0.8h-0.8zM57.2 137.7h0.8v0.8h-0.8zM56.5 120.8h0.8v0.8h-0.8zM58.0 130.5h0.8v0.8h-0.8zM55.4 128.1h0.8v0.8h-0.8zM58.4 126.4h0.8v0.8h-0.8zM53.5 140.1h0.8v0.8h-0.8zM53.3 127.6h0.8v0.8h-0.8zM54.8 140.3h0.8v0.8h-0.8zM54.7 130.6h0.8v0.8h-0.8zM55.7 136.5h0.8v0.8h-0.8zM55.0 124.3h0.8v0.8h-0.8zM55.2 134.7h0.8v0.8h-0.8zM56.1 129.9h0.8v0.8h-0.8zM59.3 124.4h0.8v0.8h-0.8zM60.8 132.1h0.8v0.8h-0.8zM54.5 130.6h0.8v0.8h-0.8zM57.4 131.7h0.8v0.8h-0.8zM54.6 128.1h0.8v0.8h-0.8zM59.1 126.7h0.8v0.8h-0.8zM59.0 131.9h0.8v0.8h-0.8zM55.2 138.2h0.8v0.8h-0.8zM52.3 132.0h0.8v0.8h-0.8zM52.9 127.5h0.8v0.8h-0.8zM56.9 121.4h0.8v0.8h-0.8zM55.7 131.4h0.8v0.8h-0.8zM54.0 125.8h0.8v0.8h-0.8zM58.2 131.9h0.8v0.8h-0.8zM57.4 133.9h0.8v0.8h-0.8zM55.5 128.6h0.8v0.8h-0.8zM57.9 126.4h0.8v0.8h-0.8zM54.7 129.1h0.8v0.8h-0.8zM56.6 135.5h0.8v0.8h-0.8zM57.0 127.4h0.8v0.8h-0.8zM59.2 133.4h0.8v0.8h-0.8zM55.6 126.1h0.8v0.8h-0.8zM59.1 139.7h0.8v0.8h-0.8zM58.0 130.6h0.8v0.8h-0.8zM60.1 135.2h0.8v0.8h-0.8zM58.4 135.9h0.8v0.8h-0.8zM56.3 134.1h0.8v0.8h-0.8zM56.1 132.2h0.8v0.8h-0.8zM58.3 130.7h0.8v0.8h-0.8zM54.0 132.8h0.8v0.8h-0.8zM58.3 121.0h0.8v0.8h-0.8zM54.0 129.8h0.8v0.8h-0.8zM56.5 137.5h0.8v0.8h-0.8zM58.9 130.0h0.8v0.8h-0.8zM59.0 118.5h0.8v0.8h-0.8zM53.3 138.6h0.8v0.8h-0.8zM54.3 129.2h0.8v0.8h-0.8zM56.0 137.9h0.8v0.8h-0.8zM56.4 127.5h0.8v0.8h-0.8zM53.2 133.4h0.8v0.8h-0.8zM53.5 128.5h0.8v0.8h-0.8zM56.6 116.0h0.8v0.8h-0.8zM60.5 134.2h0.8v0.8h-0.8zM54.2 124.2h0.8v0.8h-0.8zM56.7 131.3h0.8v0.8h-0.8zM57.0 122.1h0.8v0.8h-0.8zM53.1 134.5h0.8v0.8h-0.8zM56.3 134.9h0.8v0.8h-0.8zM53.7 122.4h0.8v0.8h-0.8zM54.6 126.4h0.8v0.8h-0.8zM54.1 137.1h0.8v0.8h-0.8zM53.7 129.9h0.8v0.8h-0.8zM50.5 127.1h0.8v0.8h-0.8zM55.6 127.0h0.8v0.8h-0.8zM53.5 119.1h0.8v0.8h-0.8zM57.9 135.7h0.8v0.8h-0.8zM54.8 125.5h0.8v0.8h-0.8zM59.8 129.6h0.8v0.8h-0.8z" fill="rgb(40,40,40)" opacity="0.45"/>
<path d="M54.2 124.3h0.8v0.8h-0.8zM58.8 130.6h0.8v0.8h-0.8zM56.6 133.5h0.8v0.8h-0.8zM60.3 127.5h0.8v0.8h-0.8zM58.3 129.4h0.8v0.8h-0.8zM57.4 137.6h0.8v0.8h-0.8zM55.1 133.7h0.8v0.8h-0.8zM57.0 127.6h0.8v0.8h-0.8zM54.1 126.8h0.8v0.8h-0.8zM54.4 127.6h0.8v0.8h-0.8zM54.9 123.8h0.8v0.8h-0.8zM54.2 117.8h0.8v0.8h-0.8zM52.3 147.4h0.8v0.8h-0.8zM51.9 133.5h0.8v0.8h-0.8zM55.3 127.0h0.8v0.8h-0.8zM54.3 127.8h0.8v0.8h-0.8zM58.5 129.4h0.8v0.8h-0.8zM60.6 132.0h0.8v0.8h-0.8zM56.1 129.1h0.8v0.8h-0.8zM56.1 132.7h0.8v0.8h-0.8zM57.3 119.5h0.8v0.8h-0.8zM59.4 126.7h0.8v0.8h-0.8zM60.1 131.6h0.8v0.8h-0.8zM56.3 127.3h0.8v0.8h-0.8zM52.9 129.9h0.8v0.8h-0.8zM55.7 135.6h0.8v0.8h-0.8zM54.0 130.6h0.8v0.8h-0.8zM52.1 122.3h0.8v0.8h-0.8zM56.1 128.9h0.8v0.8h-0.8zM54.0 135.5h0.8v0.8h-0.8zM55.7 126.2h0.8v0.8h-0.8zM61.1 123.1h0.8v0.8h-0.8zM55.4 127.0h0.8v0.8h-0.8zM53.0 129.4h0.8v0.8h-0.8zM61.3 129.3h0.8v0.8h-0.8zM54.7 131.8h0.8v0.8h-0.8zM55.9 135.1h0.8v0.8h-0.8zM56.8 134.6h0.8v0.8h-0.8zM61.1 133.2h0.8v0.8h-0.8zM54.5 130.9h0.8v0.8h-0.8zM55.8 126.3h0.8v0.8h-0.8zM53.1 133.2h0.8v0.8h-0.8zM55.1 129.5h0.8v0.8h-0.8zM59.8 135.8h0.8v0.8h-0.8zM55.4 126.2h0.8v0.8h-0.8zM57.4 127.2h0.8v0.8h-0.8zM58.2 129.7h0.8v0.8h-0.8zM51.6 124.5h0.8v0.8h-0.8zM54.4 130.4h0.8v0.8h-0.8zM51.6 135.6h0.8v0.8h-0.8zM55.3 134.0h0.8v0.8h-0.8zM53.8 135.9h0.8v0.8h-0.8zM57.6 123.6h0.8v0.8h-0.8zM53.7 127.8h0.8v0.8h-0.8zM53.9 138.2h0.8v0.8h-0.8zM57.6 124.3h0.8v0.8h-0.8zM56.2 132.9h0.8v0.8h-0.8zM54.8 134.5h0.8v0.8h-0.8zM54.9 127.6h0.8v0.8h-0.8zM52.1 125.8h0.8v0.8h-0.8zM55.1 129.4h0.8v0.8h-0.8zM56.1 129.1h0.8v0.8h-0.8zM53.7 129.9h0.8v0.8h-0.8zM51.5 125.6h0.8v0.8h-0.8zM55.4 134.2h0.8v0.8h-0.8zM54.1 135.2h0.8v0.8h-0.8zM60.3 125.0h0.8v0.8h-0.8zM57.0 136.8h0.8v0.8h-0.8zM56.5 128.9h0.8v0.8h-0.8zM58.5 124.2h0.8v0.8h-0.8zM55.6 126.8h0.8v0.8h-0.8zM56.0 139.0h0.8v0.8h-0.8zM55.5 136.2h0.8v0.8h-0.8zM61.4 121.1h0.8v0.8h-0.8zM58.4 127.5h0.8v0.8h-0.8zM50.4 128.4h0.8v0.8h-0.8zM56.6 132.6h0.8v0.8h-0.8zM55.7 138.9h0.8v0.8h-0.8zM56.4 126.4h0.8v0.8h-0.8zM56.8 133.4h0.8v0.8h-0.8zM57.3 143.0h0.8v0.8h-0.8zM55.2 130.9h0.8v0.8h-0.8zM56.5 134.5h0.8v0.8h-0.8zM55.9 131.0h0.8v0.8h-0.8zM56.4 124.0h0.8v0.8h-0.8zM54.7 132.3h0.8v0.8h-0.8zM57.8 135.5h0.8v0.8h-0.8zM55.5 122.7h0.8v0.8h-0.8zM56.1 131.4h0.8v0.8h-0.8zM56.3 137.0h0.8v0.8h-0.8zM53.9 132.2h0.8v0.8h-0.8zM58.2 132.0h0.8v0.8h-0.8zM55.2 133.4h0.8v0.8h-0.8zM55.7 137.4h0.8v0.8h-0.8zM56.5 129.3h0.8v0.8h-0.8zM57.3 129.6h0.8v0.8h-0.8zM60.2 127.9h0.8v0.8h-0.8zM56.6 131.3h0.8v0.8h-0.8zM58.9 134.7h0.8v0.8h-0.8zM55.2 126.8h0.8v0.8h-0.8zM62.3 123.9h0.8v0.8h-0.8zM55.7 127.6h0.8v0.8h-0.8zM57.5 133.1h0.8v0.8h-0.8zM56.9 132.5h0.8v0.8h-0.8zM57.5 133.0h0.8v0.8h-0.8zM54.8 132.9h0.8v0.8h-0.8zM56.2 131.0h0.8v0.8h-0.8zM57.7 127.5h0.8v0.8h-0.8zM56.5 132.1h0.8v0.8h-0.8zM54.6 134.3h0.8v0.8h-0.8zM53.0 129.8h0.8v0.8h-0.8zM51.5 127.7h0.8v0.8h-0.8z" fill="rgb(20,20,20)" opacity="0.45"/>
<path d="M55.4 133.2h0.8v0.8h-0.8zM57.6 124.7h0.8v0.8h-0.8zM53.6 124.7h0.8v0.8h-0.8zM57.4 125.6h0.8v0.8h-0.8zM55.1 126.2h0.8v0.8h-0.8zM55.1 129.3h0.8v0.8h-0.8zM54.6 132.8h0.8v0.8h-0.8zM55.1 124.8h0.8v0.8h-0.8zM58.5 124.6h0.8v0.8h-0.8zM56.1 131.8h0.8v0.8h-0.8zM54.0 132.0h0.8v0.8h-0.8zM55.5 123.8h0.8v0.8h-0.8zM58.6 126.8h0.8v0.8h-0.8zM55.1 134.0h0.8v0.8h-0.8zM55.4 129.5h0.8v0.8h-0.8zM57.2 128.3h0.8v0.8h-0.8zM57.2 129.9h0.8v0.8h-0.8zM58.3 130.7h0.8v0.8h-0.8zM55.2 132.2h0.8v0.8h-0.8zM55.8 125.5h0.8v0.8h-0.8zM52.8 133.3h0.8v0.8h-0.8zM58.0 130.8h0.8v0.8h-0.8zM55.8 125.0h0.8v0.8h-0.8zM58.9 128.3h0.8v0.8h-0.8zM54.9 125.7h0.8v0.8h-0.8zM52.9 126.5h0.8v0.8h-0.8zM57.6 132.0h0.8v0.8h-0.8zM54.2 130.0h0.8v0.8h-0.8zM55.6 126.7h0.8v0.8h-0.8zM55.5 131.2h0.8v0.8h-0.8zM56.0 126.7h0.8v0.8h-0.8zM54.6 127.9h0.8v0.8h-0.8zM57.2 131.3h0.8v0.8h-0.8zM57.7 130.7h0.8v0.8h-0.8zM54.4 130.7h0.8v0.8h-0.8zM57.9 123.6h0.8v0.8h-0.8zM56.1 128.8h0.8v0.8h-0.8zM55.1 131.4h0.8v0.8h-0.8zM56.2 125.4h0.8v0.8h-0.8zM55.9 126.8h0.8v0.8h-0.8zM58.6 131.6h0.8v0.8h-0.8zM54.5 129.8h0.8v0.8h-0.8zM55.3 136.0h0.8v0.8h-0.8zM56.3 131.5h0.8v0.8h-0.8zM55.5 130.8h0.8v0.8h-0.8zM56.7 130.0h0.8v0.8h-0.8zM56.7 126.2h0.8v0.8h-0.8zM59.4 126.1h0.8v0.8h-0.8zM55.9 126.0h0.8v0.8h-0.8zM55.9 129.6h0.8v0.8h-0.8zM54.9 129.4h0.8v0.8h-0.8zM57.5 124.1h0.8v0.8h-0.8zM56.9 133.2h0.8v0.8h-0.8z" fill="rgb(0,0,0)" opacity="0.5"/>
<path d="M53.5 127.2h0.8v0.8h-0.8zM56.0 127.4h0.8v0.8h-0.8zM56.1 129.5h0.8v0.8h-0.8zM57.6 127.5h0.8v0.8h-0.8zM55.7 126.2h0.8v0.8h-0.8zM53.5 131.5h0.8v0.8h-0.8zM52.7 131.0h0.8v0.8h-0.8zM55.7 124.9h0.8v0.8h-0.8zM57.1 130.2h0.8v0.8h-0.8zM52.6 131.7h0.8v0.8h-0.8zM55.8 132.1h0.8v0.8h-0.8zM56.9 130.5h0.8v0.8h-0.8zM55.4 124.6h0.8v0.8h-0.8zM54.7 126.5h0.8v0.8h-0.8zM57.2 130.4h0.8v0.8h-0.8zM57.7 132.4h0.8v0.8h-0.8zM54.1 130.1h0.8v0.8h-0.8zM56.5 129.3h0.8v0.8h-0.8zM52.8 129.0h0.8v0.8h-0.8zM55.1 133.7h0.8v0.8h-0.8zM54.8 131.3h0.8v0.8h-0.8zM54.9 131.5h0.8v0.8h-0.8zM54.1 128.3h0.8v0.8h-0.8zM55.9 130.4h0.8v0.8h-0.8zM52.8 124.8h0.8v0.8h-0.8zM54.7 127.3h0.8v0.8h-0.8zM54.4 126.5h0.8v0.8h-0.8zM56.4 129.4h0.8v0.8h-0.8zM55.5 134.3h0.8v0.8h-0.8zM56.7 126.7h0.8v0.8h-0.8zM56.4 126.7h0.8v0.8h-0.8zM54.7 131.3h0.8v0.8h-0.8zM57.8 133.3h0.8v0.8h-0.8zM57.3 129.6h0.8v0.8h-0.8zM54.3 122.9h0.8v0.8h-0.8zM55.0 128.0h0.8v0.8h-0.8zM51.9 130.0h0.8v0.8h-0.8zM55.5 126.9h0.8v0.8h-0.8zM55.6 125.1h0.8v0.8h-0.8zM58.2 131.2h0.8v0.8h-0.8zM55.8 127.6h0.8v0.8h-0.8zM54.2 127.4h0.8v0.8h-0.8zM57.5 129.5h0.8v0.8h-0.8zM54.7 129.2h0.8v0.8h-0.8zM56.0 132.3h0.8v0.8h-0.8zM56.5 132.4h0.8v0.8h-0.8zM55.1 128.4h0.8v0.8h-0.8zM58.4 128.1h0.8v0.8h-0.8zM56.2 130.5h0.8v0.8h-0.8zM53.4 129.7h0.8v0.8h-0.8zM56.0 133.4h0.8v0.8h-0.8zM56.2 131.0h0.8v0.8h-0.8zM52.2 133.7h0.8v0.8h-0.8zM57.4 129.3h0.8v0.8h-0.8zM55.0 129.0h0.8v0.8h-0.8zM55.7 129.8h0.8v0.8h-0.8zM54.8 127.0h0.8v0.8h-0.8zM54.9 127.2h0.8v0.8h-0.8zM57.2 126.4h0.8v0.8h-0.8zM54.3 128.2h0.8v0.8h-0.8zM51.8 128.5h0.8v0.8h-0.8z" fill="rgb(20,20,20)" opacity="0.5"/>
<path d="M55.9 134.4h0.8v0.8h-0.8zM56.0 125.2h0.8v0.8h-0.8zM56.4 131.7h0.8v0.8h-0.8zM54.2 130.0h0.8v0.8h-0.8zM54.8 127.8h0.8v0.8h-0.8zM55.2 129.8h0.8v0.8h-0.8zM55.2 128.6h0.8v0.8h-0.8zM52.9 124.1h0.8v0.8h-0.8zM57.2 128.9h0.8v0.8h-0.8zM54.5 125.2h0.8v0.8h-0.8zM55.3 127.3h0.8v0.8h-0.8zM55.7 126.7h0.8v0.8h-0.8zM55.6 129.1h0.8v0.8h-0.8zM56.2 127.9h0.8v0.8h-0.8zM54.2 131.3h0.8v0.8h-0.8zM57.8 128.1h0.8v0.8h-0.8zM55.8 130.5h0.8v0.8h-0.8zM54.1 129.1h0.8v0.8h-0.8zM55.5 127.9h0.8v0.8h-0.8zM54.5 126.3h0.8v0.8h-0.8zM55.6 128.5h0.8v0.8h-0.8zM56.1 125.8h0.8v0.8h-0.8zM56.4 129.6h0.8v0.8h-0.8zM56.7 130.8h0.8v0.8h-0.8zM54.3 130.9h0.8v0.8h-0.8zM55.3 126.2h0.8v0.8h-0.8zM52.2 126.0h0.8v0.8h-0.8zM57.8 135.0h0.8v0.8h-0.8zM56.0 127.7h0.8v0.8h-0.8zM55.3 128.0h0.8v0.8h-0.8zM53.2 125.8h0.8v0.8h-0.8zM55.3 126.4h0.8v0.8h-0.8zM55.6 126.6h0.8v0.8h-0.8zM55.5 132.5h0.8v0.8h-0.8zM57.3 134.0h0.8v0.8h-0.8zM53.8 128.1h0.8v0.8h-0.8zM57.0 127.9h0.8v0.8h-0.8zM56.4 128.6h0.8v0.8h-0.8zM55.5 128.0h0.8v0.8h-0.8zM57.0 128.8h0.8v0.8h-0.8zM57.6 129.7h0.8v0.8h-0.8zM54.7 123.6h0.8v0.8h-0.8zM54.0 129.3h0.8v0.8h-0.8zM54.7 133.0h0.8v0.8h-0.8zM59.2 127.9h0.8v0.8h-0.8zM54.3 126.3h0.8v0.8h-0.8zM57.3 130.9h0.8v0.8h-0.8zM56.5 129.3h0.8v0.8h-0.8zM53.7 126.6h0.8v0.8h-0.8zM56.3 129.0h0.8v0.8h-0.8zM54.8 129.6h0.8v0.8h-0.8zM54.7 128.7h0.8v0.8h-0.8zM53.9 134.2h0.8v0.8h-0.8zM55.2 130.1h0.8v0.8h-0.8zM56.1 126.3h0.8v0.8h-0.8zM55.7 125.6h0.8v0.8h-0.8zM56.6 134.9h0.8v0.8h-0.8zM57.0 127.9h0.8v0.8h-0.8zM57.2 132.7h0.8v0.8h-0.8zM57.5 125.7h0.8v0.8h-0.8zM55.9 125.3h0.8v0.8h-0.8zM54.9 133.7h0.8v0.8h-0.8zM54.7 128.0h0.8v0.8h-0.8zM56.7 127.9h0.8v0.8h-0.8z" fill="rgb(60,60,60)" opacity="0.5"/>
<path d="M56.8 128.8h0.8v0.8h-0.8zM55.1 131.2h0.8v0.8h-0.8zM55.5 133.0h0.8v0.8h-0.8zM56.1 130.4h0.8v0.8h-0.8zM57.3 138.2h0.8v0.8h-0.8zM55.1 129.9h0.8v0.8h-0.8zM55.2 134.7h0.8v0.8h-0.8zM57.0 123.7h0.8v0.8h-0.8zM54.6 129.6h0.8v0.8h-0.8zM56.8 132.8h0.8v0.8h-0.8zM54.8 132.0h0.8v0.8h-0.8zM55.1 128.9h0.8v0.8h-0.8zM56.2 129.9h0.8v0.8h-0.8zM57.9 135.6h0.8v0.8h-0.8zM57.3 133.6h0.8v0.8h-0.8zM55.6 127.3h0.8v0.8h-0.8zM55.0 132.1h0.8v0.8h-0.8zM58.4 124.3h0.8v0.8h-0.8zM56.8 124.2h0.8v0.8h-0.8zM55.7 125.9h0.8v0.8h-0.8zM56.7 130.8h0.8v0.8h-0.8zM56.5 131.4h0.8v0.8h-0.8zM54.4 128.6h0.8v0.8h-0.8zM56.5 126.6h0.8v0.8h-0.8zM55.5 125.9h0.8v0.8h-0.8zM56.0 128.3h0.8v0.8h-0.8zM56.0 131.0h0.8v0.8h-0.8zM54.4 126.6h0.8v0.8h-0.8zM55.4 121.9h0.8v0.8h-0.8zM55.2 128.8h0.8v0.8h-0.8zM54.9 129.0h0.8v0.8h-0.8zM53.9 129.3h0.8v0.8h-0.8zM56.8 125.0h0.8v0.8h-0.8zM55.9 126.7h0.8v0.8h-0.8zM54.6 128.6h0.8v0.8h-0.8zM54.7 133.2h0.8v0.8h-0.8zM55.0 130.7h0.8v0.8h-0.8zM56.1 130.5h0.8v0.8h-0.8zM54.1 128.4h0.8v0.8h-0.8zM57.3 128.4h0.8v0.8h-0.8zM56.2 130.6h0.8v0.8h-0.8zM56.3 125.6h0.8v0.8h-0.8z" fill="rgb(40,40,40)" opacity="0.5"/>
<path d="M56.8 110.7h0.8v0.8h-0.8zM55.8 114.6h0.8v0.8h-0.8zM59.1 100.2h0.8v0.8h-0.8zM59.7 110.1h0.8v0.8h-0.8zM55.4 109.8h0.8v0.8h-0.8zM56.4 118.5h0.8v0.8h-0.8zM59.7 111.7h0.8v0.8h-0.8zM56.4 120.5h0.8v0.8h-0.8zM56.9 110.2h0.8v0.8h-0.8zM61.2 102.5h0.8v0.8h-0.8zM58.2 111.9h0.8v0.8h-0.8zM58.5 116.4h0.8v0.8h-0.8zM59.0 106.2h0.8v0.8h-0.8zM58.0 112.3h0.8v0.8h-0.8zM58.8 107.0h0.8v0.8h-0.8z" fill="rgb(140,140,140)" opacity="0.45"/>
<path d="M57.4 114.0h0.8v0.8h-0.8zM56.5 104.6h0.8v0.8h-0.8zM56.0 118.6h0.8v0.8h-0.8zM60.7 106.5h0.8v0.8h-0.8zM54.1 107.5h0.8v0.8h-0.8zM57.5 114.9h0.8v0.8h-0.8zM53.8 110.2h0.8v0.8h-0.8zM56.4 110.9h0.8v0.8h-0.8zM58.7 113.5h0.8v0.8h-0.8zM56.2 106.5h0.8v0.8h-0.8zM57.5 120.0h0.8v0.8h-0.8zM56.3 113.1h0.8v0.8h-0.8zM57.0 101.1h0.8v0.8h-0.8zM56.8 107.8h0.8v0.8h-0.8zM59.1 111.5h0.8v0.8h-0.8zM58.1 111.2h0.8v0.8h-0.8zM56.6 112.1h0.8v0.8h-0.8zM56.8 118.6h0.8v0.8h-0.8zM57.4 117.2h0.8v0.8h-0.8zM58.2 118.8h0.8v0.8h-0.8zM58.4 106.6h0.8v0.8h-0.8zM59.3 103.2h0.8v0.8h-0.8zM58.3 115.7h0.8v0.8h-0.8zM57.5 110.6h0.8v0.8h-0.8zM54.8 122.4h0.8v0.8h-0.8zM57.3 118.6h0.8v0.8h-0.8zM59.0 112.4h0.8v0.8h-0.8zM59.6 107.1h0.8v0.8h-0.8zM56.1 113.3h0.8v0.8h-0.8zM57.1 110.3h0.8v0.8h-0.8zM54.3 114.2h0.8v0.8h-0.8zM56.5 117.1h0.8v0.8h-0.8zM58.7 112.4h0.8v0.8h-0.8zM55.6 121.8h0.8v0.8h-0.8zM58.5 117.9h0.8v0.8h-0.8zM58.0 111.5h0.8v0.8h-0.8z" fill="rgb(100,100,100)" opacity="0.45"/>
<path d="M56.4 116.7h0.8v0.8h-0.8zM59.3 109.5h0.8v0.8h-0.8zM55.6 109.1h0.8v0.8h-0.8zM59.2 114.8h0.8v0.8h-0.8zM57.5 121.7h0.8v0.8h-0.8zM57.9 111.5h0.8v0.8h-0.8zM58.9 107.8h0.8v0.8h-0.8zM58.6 110.0h0.8v0.8h-0.8zM56.1 106.4h0.8v0.8h-0.8zM56.9 112.9h0.8v0.8h-0.8zM56.8 112.9h0.8v0.8h-0.8zM55.2 108.7h0.8v0.8h-0.8zM59.0 114.0h0.8v0.8h-0.8zM58.2 120.9h0.8v0.8h-0.8zM56.2 113.4h0.8v0.8h-0.8zM60.4 110.8h0.8v0.8h-0.8zM58.0 119.6h0.8v0.8h-0.8zM58.9 104.3h0.8v0.8h-0.8zM57.0 106.5h0.8v0.8h-0.8zM57.3 117.8h0.8v0.8h-0.8zM56.2 108.9h0.8v0.8h-0.8zM56.2 112.6h0.8v0.8h-0.8zM56.7 116.1h0.8v0.8h-0.8zM60.4 115.3h0.8v0.8h-0.8zM56.3 106.2h0.8v0.8h-0.8zM56.2 114.3h0.8v0.8h-0.8zM55.7 113.1h0.8v0.8h-0.8zM59.6 111.0h0.8v0.8h-0.8zM56.4 120.3h0.8v0.8h-0.8zM58.5 112.2h0.8v0.8h-0.8zM58.0 116.8h0.8v0.8h-0.8zM57.4 109.2h0.8v0.8h-0.8zM56.5 106.5h0.8v0.8h-0.8zM56.0 112.2h0.8v0.8h-0.8zM58.6 112.6h0.8v0.8h-0.8zM55.9 109.8h0.8v0.8h-0.8z" fill="rgb(80,80,80)" opacity="0.45"/>
<path d="M59.5 112.1h0.8v0.8h-0.8zM54.9 102.8h0.8v0.8h-0.8zM55.8 112.3h0.8v0.8h-0.8zM58.6 107.5h0.8v0.8h-0.8zM58.1 108.5h0.8v0.8h-0.8zM60.8 111.0h0.8v0.8h-0.8zM56.0 112.2h0.8v0.8h-0.8zM56.9 106.9h0.8v0.8h-0.8zM56.1 102.1h0.8v0.8h-0.8zM60.8 107.6h0.8v0.8h-0.8zM57.8 108.0h0.8v0.8h-0.8zM57.6 108.6h0.8v0.8h-0.8zM56.6 110.4h0.8v0.8h-0.8zM58.1 112.6h0.8v0.8h-0.8zM56.2 114.4h0.8v0.8h-0.8zM59.6 111.9h0.8v0.8h-0.8zM55.5 112.5h0.8v0.8h-0.8zM58.4 111.8h0.8v0.8h-0.8zM56.4 105.5h0.8v0.8h-0.8zM57.5 118.2h0.8v0.8h-0.8zM53.5 120.5h0.8v0.8h-0.8zM57.6 106.1h0.8v0.8h-0.8zM59.5 107.9h0.8v0.8h-0.8zM58.3 108.1h0.8v0.8h-0.8zM55.9 119.9h0.8v0.8h-0.8zM58.7 111.7h0.8v0.8h-0.8zM57.8 116.2h0.8v0.8h-0.8zM56.8 116.5h0.8v0.8h-0.8zM56.2 110.4h0.8v0.8h-0.8zM57.6 115.7h0.8v0.8h-0.8zM55.7 113.0h0.8v0.8h-0.8zM58.4 102.8h0.8v0.8h-0.8zM58.2 106.0h0.8v0.8h-0.8zM57.9 110.5h0.8v0.8h-0.8zM59.4 115.8h0.8v0.8h-0.8zM55.4 117.6h0.8v0.8h-0.8zM58.8 111.3h0.8v0.8h-0.8zM58.1 115.1h0.8v0.8h-0.8zM56.5 110.7h0.8v0.8h-0.8zM58.4 112.5h0.8v0.8h-0.8zM57.9 114.0h0.8v0.8h-0.8z" fill="rgb(60,60,60)" opacity="0.45"/>
<path d="M57.0 112.7h0.8v0.8h-0.8zM57.9 120.4h0.8v0.8h-0.8zM58.0 115.0h0.8v0.8h-0.8zM58.6 118.4h0.8v0.8h-0.8zM57.5 110.5h0.8v0.8h-0.8zM57.9 104.2h0.8v0.8h-0.8zM58.5 112.4h0.8v0.8h-0.8zM57.9 118.5h0.8v0.8h-0.8zM55.4 114.8h0.8v0.8h-0.8zM57.4 108.1h0.8v0.8h-0.8zM60.7 118.9h0.8v0.8h-0.8zM56.2 114.4h0.8v0.8h-0.8zM56.4 114.0h0.8v0.8h-0.8zM55.9 113.4h0.8v0.8h-0.8zM56.1 113.2h0.8v0.8h-0.8zM59.3 112.5h0.8v0.8h-0.8zM55.5 108.2h0.8v0.8h-0.8zM58.5 111.8h0.8v0.8h-0.8zM60.0 116.1h0.8v0.8h-0.8zM60.5 113.5h0.8v0.8h-0.8zM58.3 121.1h0.8v0.8h-0.8zM57.5 114.2h0.8v0.8h-0.8zM58.8 120.5h0.8v0.8h-0.8zM56.6 105.7h0.8v0.8h-0.8zM59.2 110.2h0.8v0.8h-0.8zM57.7 113.7h0.8v0.8h-0.8zM58.6 105.4h0.8v0.8h-0.8zM58.0 112.4h0.8v0.8h-0.8zM57.1 115.1h0.8v0.8h-0.8zM55.7 112.0h0.8v0.8h-0.8zM57.5 110.2h0.8v0.8h-0.8zM58.8 106.8h0.8v0.8h-0.8zM58.0 112.3h0.8v0.8h-0.8z" fill="rgb(120,120,120)" opacity="0.45"/>
<path d="M58.7 104.5h0.8v0.8h-0.8zM59.8 114.6h0.8v0.8h-0.8zM59.8 111.4h0.8v0.8h-0.8zM55.8 111.3h0.8v0.8h-0.8zM53.6 113.9h0.8v0.8h-0.8zM57.7 110.5h0.8v0.8h-0.8zM60.8 109.4h0.8v0.8h-0.8zM60.0 114.0h0.8v0.8h-0.8zM59.3 113.7h0.8v0.8h-0.8zM58.2 107.6h0.8v0.8h-0.8zM56.0 118.1h0.8v0.8h-0.8zM56.3 116.3h0.8v0.8h-0.8zM55.9 116.7h0.8v0.8h-0.8zM57.6 114.8h0.8v0.8h-0.8zM57.0 111.0h0.8v0.8h-0.8zM58.0 110.8h0.8v0.8h-0.8zM60.1 112.9h0.8v0.8h-0.8zM58.9 112.5h0.8v0.8h-0.8zM55.8 108.8h0.8v0.8h-0.8zM58.3 114.3h0.8v0.8h-0.8zM59.7 108.7h0.8v0.8h-0.8zM57.2 106.9h0.8v0.8h-0.8zM56.6 114.9h0.8v0.8h-0.8zM54.6 106.5h0.8v0.8h-0.8zM57.8 104.8h0.8v0.8h-0.8zM58.0 109.7h0.8v0.8h-0.8zM57.1 113.3h0.8v0.8h-0.8zM57.0 109.9h0.8v0.8h-0.8zM56.1 111.0h0.8v0.8h-0.8z" fill="rgb(40,40,40)" opacity="0.45"/>
<path d="M53.2 151.2h0.8v0.8h-0.8zM53.5 154.7h0.8v0.8h-0.8zM53.3 148.6h0.8v0.8h-0.8zM56.0 150.4h0.8v0.8h-0.8zM52.5 150.5h0.8v0.8h-0.8zM55.5 151.9h0.8v0.8h-0.8zM50.2 138.5h0.8v0.8h-0.8zM50.4 153.8h0.8v0.8h-0.8zM58.1 158.1h0.8v0.8h-0.8zM55.8 149.5h0.8v0.8h-0.8zM52.1 148.3h0.8v0.8h-0.8zM49.9 154.3h0.8v0.8h-0.8zM57.6 161.9h0.8v0.8h-0.8zM50.1 146.0h0.8v0.8h-0.8zM50.5 158.0h0.8v0.8h-0.8z" fill="rgb(140,140,140)" opacity="0.4"/>
<path d="M54.9 154.8h0.8v0.8h-0.8zM47.1 148.2h0.8v0.8h-0.8zM52.2 141.5h0.8v0.8h-0.8zM57.5 156.8h0.8v0.8h-0.8zM50.9 156.2h0.8v0.8h-0.8zM53.9 151.2h0.8v0.8h-0.8zM58.3 150.7h0.8v0.8h-0.8zM50.4 140.5h0.8v0.8h-0.8zM55.8 147.6h0.8v0.8h-0.8zM55.8 151.5h0.8v0.8h-0.8zM55.2 147.3h0.8v0.8h-0.8zM56.9 152.3h0.8v0.8h-0.8zM53.2 148.7h0.8v0.8h-0.8zM55.6 149.0h0.8v0.8h-0.8zM56.6 147.6h0.8v0.8h-0.8zM50.1 153.0h0.8v0.8h-0.8zM56.5 149.4h0.8v0.8h-0.8zM54.3 148.9h0.8v0.8h-0.8zM54.5 148.0h0.8v0.8h-0.8zM58.4 146.4h0.8v0.8h-0.8zM51.5 149.7h0.8v0.8h-0.8zM52.5 151.5h0.8v0.8h-0.8zM53.0 155.1h0.8v0.8h-0.8z" fill="rgb(80,80,80)" opacity="0.4"/>
<path d="M57.0 147.1h0.8v0.8h-0.8zM50.5 155.7h0.8v0.8h-0.8zM53.6 142.0h0.8v0.8h-0.8zM52.3 148.4h0.8v0.8h-0.8zM59.5 140.6h0.8v0.8h-0.8zM56.7 151.0h0.8v0.8h-0.8zM51.7 152.9h0.8v0.8h-0.8zM53.6 150.2h0.8v0.8h-0.8zM50.4 140.0h0.8v0.8h-0.8zM57.4 151.3h0.8v0.8h-0.8zM51.6 152.3h0.8v0.8h-0.8zM58.1 153.7h0.8v0.8h-0.8zM51.3 147.9h0.8v0.8h-0.8zM59.7 148.2h0.8v0.8h-0.8zM53.8 143.4h0.8v0.8h-0.8zM52.2 147.6h0.8v0.8h-0.8zM51.1 155.8h0.8v0.8h-0.8zM51.4 143.2h0.8v0.8h-0.8zM52.6 148.3h0.8v0.8h-0.8z" fill="rgb(100,100,100)" opacity="0.4"/>
<path d="M55.0 144.2h0.8v0.8h-0.8zM55.2 155.1h0.8v0.8h-0.8zM54.1 148.8h0.8v0.8h-0.8zM48.0 144.0h0.8v0.8h-0.8zM48.4 146.6h0.8v0.8h-0.8zM56.3 145.4h0.8v0.8h-0.8zM53.0 142.3h0.8v0.8h-0.8zM51.7 144.6h0.8v0.8h-0.8zM50.3 149.0h0.8v0.8h-0.8zM55.0 146.7h0.8v0.8h-0.8zM52.0 146.9h0.8v0.8h-0.8zM60.1 155.5h0.8v0.8h-0.8zM58.3 155.8h0.8v0.8h-0.8zM56.7 156.0h0.8v0.8h-0.8z" fill="rgb(160,160,160)" opacity="0.4"/>
<path d="M55.9 154.6h0.8v0.8h-0.8zM52.5 149.2h0.8v0.8h-0.8zM55.2 148.6h0.8v0.8h-0.8zM53.5 147.8h0.8v0.8h-0.8zM52.1 157.8h0.8v0.8h-0.8zM54.4 152.0h0.8v0.8h-0.8zM56.0 157.7h0.8v0.8h-0.8zM54.7 151.7h0.8v0.8h-0.8zM56.1 144.9h0.8v0.8h-0.8zM54.6 144.7h0.8v0.8h-0.8zM51.1 147.8h0.8v0.8h-0.8zM53.2 155.8h0.8v0.8h-0.8zM51.0 151.5h0.8v0.8h-0.8zM52.4 150.9h0.8v0.8h-0.8zM56.7 158.4h0.8v0.8h-0.8zM57.2 156.1h0.8v0.8h-0.8zM59.7 142.7h0.8v0.8h-0.8zM52.3 147.5h0.8v0.8h-0.8z" fill="rgb(120,120,120)" opacity="0.4"/>
<rect x="42.9" y="102.2" width="26" height="43.3" fill="none" stroke="#666" stroke-width="0.8"/>
<line x1="42.9" y1="120.3" x2="68.9" y2="120.3" stroke="#666" stroke-width="0.8"/>
<rect x="69.3" y="112.7" width="11" height="5.2" fill="#fff" stroke="#ccc" stroke-width="0.5"/>
<rect x="69.3" y="137" width="11" height="5.2" fill="#fff" stroke="#ccc" stroke-width="0.5"/>
<text x="74.4" y="117.6" font-size="3.6" text-anchor="middle" fill="#111" stroke="#111" stroke-width="0.25">bright</text>
<text x="74.6" y="141.2" font-size="3.6" text-anchor="middle" fill="#111" stroke="#111" stroke-width="0.25">dimm</text>
<rect x="18.6" y="291.2" width="64.8" height="69.0" fill="none" stroke="#777" stroke-width="0.9"/>
<text x="16.3" y="292.5" font-size="2.6" text-anchor="end" fill="#777">10</text>
<text x="16.3" y="309" font-size="2.6" text-anchor="end" fill="#777">10</text>
<text x="16.3" y="326" font-size="2.6" text-anchor="end" fill="#777">10</text>
<text x="16.3" y="343" font-size="2.6" text-anchor="end" fill="#777">10</text>
<text x="19.0" y="365.4" font-size="2.9" text-anchor="middle" fill="#444">0</text>
<text x="31.7" y="365.4" font-size="2.9" text-anchor="middle" fill="#444">200</text>
<text x="44.4" y="365.4" font-size="2.9" text-anchor="middle" fill="#444">400</text>
<text x="57.099999999999994" y="365.4" font-size="2.9" text-anchor="middle" fill="#444">600</text>
<text x="69.8" y="365.4" font-size="2.9" text-anchor="middle" fill="#444">800</text>
<text x="82.5" y="365.4" font-size="2.9" text-anchor="middle" fill="#444">1000</text>
<path d="M34.1 312.4h0.8v0.8h-0.8zM31.0 312.3h0.8v0.8h-0.8zM35.7 312.0h0.8v0.8h-0.8zM31.5 312.1h0.8v0.8h-0.8zM28.5 308.2h0.8v0.8h-0.8zM33.0 308.6h0.8v0.8h-0.8zM39.1 311.4h0.8v0.8h-0.8zM31.7 312.4h0.8v0.8h-0.8zM34.0 310.9h0.8v0.8h-0.8zM30.5 307.4h0.8v0.8h-0.8zM30.9 313.6h0.8v0.8h-0.8zM27.9 314.4h0.8v0.8h-0.8zM32.9 311.5h0.8v0.8h-0.8zM33.0 316.0h0.8v0.8h-0.8zM33.1 309.0h0.8v0.8h-0.8zM35.2 309.2h0.8v0.8h-0.8zM33.8 310.5h0.8v0.8h-0.8zM31.8 314.3h0.8v0.8h-0.8zM32.0 309.4h0.8v0.8h-0.8zM35.4 309.8h0.8v0.8h-0.8zM34.1 312.2h0.8v0.8h-0.8zM30.6 311.3h0.8v0.8h-0.8zM28.7 311.1h0.8v0.8h-0.8zM35.4 308.2h0.8v0.8h-0.8zM28.6 310.3h0.8v0.8h-0.8zM30.5 311.7h0.8v0.8h-0.8zM32.7 307.7h0.8v0.8h-0.8zM33.2 316.0h0.8v0.8h-0.8zM30.9 312.0h0.8v0.8h-0.8zM37.3 308.7h0.8v0.8h-0.8zM32.7 313.4h0.8v0.8h-0.8zM38.3 309.5h0.8v0.8h-0.8zM29.0 312.1h0.8v0.8h-0.8zM33.4 318.7h0.8v0.8h-0.8zM36.4 308.6h0.8v0.8h-0.8zM32.1 305.5h0.8v0.8h-0.8zM33.4 311.5h0.8v0.8h-0.8zM28.0 311.7h0.8v0.8h-0.8zM36.9 313.9h0.8v0.8h-0.8zM29.7 313.5h0.8v0.8h-0.8zM32.4 310.7h0.8v0.8h-0.8zM32.2 310.3h0.8v0.8h-0.8zM34.6 304.1h0.8v0.8h-0.8zM30.2 308.4h0.8v0.8h-0.8zM34.1 307.5h0.8v0.8h-0.8zM29.0 307.9h0.8v0.8h-0.8zM35.0 311.0h0.8v0.8h-0.8zM30.7 309.4h0.8v0.8h-0.8zM31.7 316.6h0.8v0.8h-0.8zM31.7 307.4h0.8v0.8h-0.8zM32.5 305.5h0.8v0.8h-0.8zM30.2 305.6h0.8v0.8h-0.8zM33.5 311.8h0.8v0.8h-0.8zM32.1 311.4h0.8v0.8h-0.8zM35.2 312.1h0.8v0.8h-0.8zM32.1 309.9h0.8v0.8h-0.8zM32.0 308.6h0.8v0.8h-0.8zM32.3 313.6h0.8v0.8h-0.8zM32.6 311.3h0.8v0.8h-0.8zM30.3 308.5h0.8v0.8h-0.8zM30.8 312.6h0.8v0.8h-0.8zM33.1 310.5h0.8v0.8h-0.8zM33.0 315.7h0.8v0.8h-0.8zM37.4 309.8h0.8v0.8h-0.8zM29.2 310.1h0.8v0.8h-0.8zM33.7 311.7h0.8v0.8h-0.8zM33.9 311.0h0.8v0.8h-0.8zM33.2 312.1h0.8v0.8h-0.8zM30.0 308.8h0.8v0.8h-0.8zM34.8 307.8h0.8v0.8h-0.8zM27.8 311.7h0.8v0.8h-0.8zM32.2 312.0h0.8v0.8h-0.8zM28.6 313.7h0.8v0.8h-0.8zM32.8 305.0h0.8v0.8h-0.8zM34.1 306.7h0.8v0.8h-0.8zM33.3 314.2h0.8v0.8h-0.8zM33.1 311.3h0.8v0.8h-0.8zM31.2 309.7h0.8v0.8h-0.8zM32.4 317.2h0.8v0.8h-0.8zM34.2 309.5h0.8v0.8h-0.8zM32.8 309.6h0.8v0.8h-0.8zM32.3 314.0h0.8v0.8h-0.8zM34.6 306.2h0.8v0.8h-0.8zM30.4 308.9h0.8v0.8h-0.8zM34.3 313.5h0.8v0.8h-0.8zM32.3 307.2h0.8v0.8h-0.8zM30.5 308.7h0.8v0.8h-0.8zM32.0 307.1h0.8v0.8h-0.8zM30.8 308.4h0.8v0.8h-0.8zM31.7 310.7h0.8v0.8h-0.8zM31.9 308.2h0.8v0.8h-0.8zM31.8 312.6h0.8v0.8h-0.8zM32.8 310.9h0.8v0.8h-0.8zM30.8 308.9h0.8v0.8h-0.8zM33.1 309.1h0.8v0.8h-0.8zM32.1 308.1h0.8v0.8h-0.8zM27.6 308.5h0.8v0.8h-0.8zM34.4 308.0h0.8v0.8h-0.8zM31.5 311.4h0.8v0.8h-0.8zM31.5 307.5h0.8v0.8h-0.8zM34.6 311.1h0.8v0.8h-0.8zM33.2 313.4h0.8v0.8h-0.8zM31.4 311.8h0.8v0.8h-0.8zM29.3 310.1h0.8v0.8h-0.8zM33.0 309.0h0.8v0.8h-0.8zM34.8 310.1h0.8v0.8h-0.8zM34.9 310.1h0.8v0.8h-0.8zM29.9 305.5h0.8v0.8h-0.8zM31.7 308.3h0.8v0.8h-0.8zM32.6 313.7h0.8v0.8h-0.8zM32.9 311.7h0.8v0.8h-0.8zM31.2 308.8h0.8v0.8h-0.8zM28.2 310.0h0.8v0.8h-0.8zM34.4 306.6h0.8v0.8h-0.8zM32.7 313.7h0.8v0.8h-0.8zM32.7 306.1h0.8v0.8h-0.8zM32.2 314.6h0.8v0.8h-0.8zM35.7 316.1h0.8v0.8h-0.8zM35.7 309.5h0.8v0.8h-0.8zM30.0 309.3h0.8v0.8h-0.8zM28.1 314.6h0.8v0.8h-0.8zM32.8 307.0h0.8v0.8h-0.8zM35.2 311.8h0.8v0.8h-0.8zM31.6 309.1h0.8v0.8h-0.8zM33.2 308.5h0.8v0.8h-0.8zM27.2 314.8h0.8v0.8h-0.8zM31.4 305.7h0.8v0.8h-0.8zM32.4 310.9h0.8v0.8h-0.8zM32.3 313.8h0.8v0.8h-0.8zM35.2 311.8h0.8v0.8h-0.8zM33.1 312.3h0.8v0.8h-0.8zM33.5 308.5h0.8v0.8h-0.8zM33.1 312.2h0.8v0.8h-0.8zM33.2 311.5h0.8v0.8h-0.8zM34.6 308.6h0.8v0.8h-0.8zM35.6 311.1h0.8v0.8h-0.8zM35.6 312.2h0.8v0.8h-0.8zM31.8 309.7h0.8v0.8h-0.8zM31.8 309.2h0.8v0.8h-0.8zM30.4 312.7h0.8v0.8h-0.8zM31.1 308.5h0.8v0.8h-0.8zM34.5 312.5h0.8v0.8h-0.8zM36.2 314.0h0.8v0.8h-0.8zM32.1 309.3h0.8v0.8h-0.8zM36.4 313.9h0.8v0.8h-0.8zM32.4 306.9h0.8v0.8h-0.8zM32.8 307.7h0.8v0.8h-0.8zM33.3 307.3h0.8v0.8h-0.8zM32.0 317.5h0.8v0.8h-0.8zM32.3 314.0h0.8v0.8h-0.8zM33.5 306.3h0.8v0.8h-0.8zM30.8 311.8h0.8v0.8h-0.8zM30.6 314.2h0.8v0.8h-0.8zM38.1 306.6h0.8v0.8h-0.8zM31.3 308.8h0.8v0.8h-0.8zM34.7 310.8h0.8v0.8h-0.8zM34.3 309.8h0.8v0.8h-0.8zM33.9 304.2h0.8v0.8h-0.8zM31.7 310.9h0.8v0.8h-0.8zM33.3 310.9h0.8v0.8h-0.8zM33.3 312.2h0.8v0.8h-0.8zM31.0 309.9h0.8v0.8h-0.8zM35.9 312.0h0.8v0.8h-0.8zM31.8 310.6h0.8v0.8h-0.8zM33.8 310.8h0.8v0.8h-0.8zM31.0 311.5h0.8v0.8h-0.8zM34.6 308.9h0.8v0.8h-0.8zM30.4 315.2h0.8v0.8h-0.8zM33.7 307.4h0.8v0.8h-0.8zM32.1 306.6h0.8v0.8h-0.8zM30.7 311.2h0.8v0.8h-0.8zM31.0 309.1h0.8v0.8h-0.8zM31.6 311.5h0.8v0.8h-0.8zM26.0 310.8h0.8v0.8h-0.8zM28.9 313.4h0.8v0.8h-0.8zM33.0 313.3h0.8v0.8h-0.8zM35.8 308.2h0.8v0.8h-0.8zM35.2 313.5h0.8v0.8h-0.8zM35.5 313.6h0.8v0.8h-0.8zM34.5 313.7h0.8v0.8h-0.8zM30.9 314.0h0.8v0.8h-0.8zM37.0 312.1h0.8v0.8h-0.8zM33.5 314.3h0.8v0.8h-0.8zM33.5 315.0h0.8v0.8h-0.8zM35.4 313.1h0.8v0.8h-0.8zM31.0 309.3h0.8v0.8h-0.8zM30.1 308.8h0.8v0.8h-0.8zM31.9 311.1h0.8v0.8h-0.8zM31.7 312.9h0.8v0.8h-0.8zM32.5 314.3h0.8v0.8h-0.8zM32.5 313.1h0.8v0.8h-0.8zM34.7 306.3h0.8v0.8h-0.8zM32.0 312.9h0.8v0.8h-0.8zM32.8 320.9h0.8v0.8h-0.8zM32.4 308.4h0.8v0.8h-0.8zM37.7 303.0h0.8v0.8h-0.8zM34.1 311.7h0.8v0.8h-0.8zM27.7 310.1h0.8v0.8h-0.8zM32.5 311.3h0.8v0.8h-0.8zM32.5 308.1h0.8v0.8h-0.8zM31.2 312.9h0.8v0.8h-0.8zM37.2 312.0h0.8v0.8h-0.8zM33.0 310.0h0.8v0.8h-0.8zM31.9 308.0h0.8v0.8h-0.8zM32.8 302.0h0.8v0.8h-0.8zM36.2 304.7h0.8v0.8h-0.8zM31.6 311.3h0.8v0.8h-0.8zM30.7 310.6h0.8v0.8h-0.8zM30.9 312.2h0.8v0.8h-0.8zM34.9 313.4h0.8v0.8h-0.8zM35.3 312.1h0.8v0.8h-0.8zM29.4 306.8h0.8v0.8h-0.8zM28.8 307.9h0.8v0.8h-0.8zM32.4 314.1h0.8v0.8h-0.8zM34.7 309.5h0.8v0.8h-0.8zM33.4 313.8h0.8v0.8h-0.8zM35.5 311.2h0.8v0.8h-0.8zM25.9 310.8h0.8v0.8h-0.8zM33.6 311.9h0.8v0.8h-0.8zM34.5 314.7h0.8v0.8h-0.8zM32.1 304.2h0.8v0.8h-0.8zM36.3 310.3h0.8v0.8h-0.8zM28.4 313.2h0.8v0.8h-0.8zM27.5 312.0h0.8v0.8h-0.8zM33.2 315.8h0.8v0.8h-0.8zM33.5 307.0h0.8v0.8h-0.8zM33.6 306.5h0.8v0.8h-0.8zM34.5 308.6h0.8v0.8h-0.8zM33.7 307.9h0.8v0.8h-0.8zM36.0 312.1h0.8v0.8h-0.8zM34.2 316.6h0.8v0.8h-0.8zM31.7 310.0h0.8v0.8h-0.8zM33.5 316.7h0.8v0.8h-0.8zM33.1 310.8h0.8v0.8h-0.8zM36.1 311.8h0.8v0.8h-0.8z" fill="rgb(40,40,40)" opacity="0.8"/>
<path d="M33.3 317.3h0.8v0.8h-0.8zM36.0 313.7h0.8v0.8h-0.8zM35.0 311.5h0.8v0.8h-0.8zM32.4 311.9h0.8v0.8h-0.8zM29.0 317.6h0.8v0.8h-0.8zM36.5 308.4h0.8v0.8h-0.8zM32.8 306.9h0.8v0.8h-0.8zM30.4 310.6h0.8v0.8h-0.8zM31.8 306.7h0.8v0.8h-0.8zM34.4 310.5h0.8v0.8h-0.8zM32.6 311.1h0.8v0.8h-0.8zM32.2 316.3h0.8v0.8h-0.8zM31.5 308.5h0.8v0.8h-0.8zM33.5 314.7h0.8v0.8h-0.8zM36.5 307.3h0.8v0.8h-0.8zM30.4 312.5h0.8v0.8h-0.8zM32.1 308.6h0.8v0.8h-0.8zM33.0 311.9h0.8v0.8h-0.8zM34.5 311.7h0.8v0.8h-0.8zM32.2 312.7h0.8v0.8h-0.8zM30.6 312.0h0.8v0.8h-0.8zM32.2 313.6h0.8v0.8h-0.8zM34.8 312.2h0.8v0.8h-0.8zM35.9 311.7h0.8v0.8h-0.8zM33.0 311.7h0.8v0.8h-0.8zM37.1 312.0h0.8v0.8h-0.8zM35.7 314.3h0.8v0.8h-0.8zM30.0 312.1h0.8v0.8h-0.8zM36.1 312.8h0.8v0.8h-0.8zM34.1 312.9h0.8v0.8h-0.8zM30.3 311.7h0.8v0.8h-0.8zM29.5 312.3h0.8v0.8h-0.8zM30.9 311.1h0.8v0.8h-0.8zM31.6 308.9h0.8v0.8h-0.8zM29.5 312.7h0.8v0.8h-0.8zM31.9 308.5h0.8v0.8h-0.8zM29.4 312.6h0.8v0.8h-0.8zM32.7 311.4h0.8v0.8h-0.8zM29.8 308.1h0.8v0.8h-0.8zM35.4 308.8h0.8v0.8h-0.8zM28.5 318.7h0.8v0.8h-0.8zM31.8 311.0h0.8v0.8h-0.8zM32.8 309.5h0.8v0.8h-0.8zM33.0 310.0h0.8v0.8h-0.8zM35.0 314.6h0.8v0.8h-0.8zM35.7 307.6h0.8v0.8h-0.8zM30.6 309.7h0.8v0.8h-0.8zM30.4 315.4h0.8v0.8h-0.8zM32.7 302.7h0.8v0.8h-0.8zM32.9 311.8h0.8v0.8h-0.8zM31.0 316.4h0.8v0.8h-0.8zM33.0 311.6h0.8v0.8h-0.8zM31.9 311.0h0.8v0.8h-0.8zM37.0 312.8h0.8v0.8h-0.8zM29.8 312.9h0.8v0.8h-0.8zM33.3 309.2h0.8v0.8h-0.8zM32.6 311.0h0.8v0.8h-0.8zM30.8 311.5h0.8v0.8h-0.8zM35.5 313.7h0.8v0.8h-0.8zM35.2 306.2h0.8v0.8h-0.8zM30.2 304.6h0.8v0.8h-0.8zM31.7 311.5h0.8v0.8h-0.8zM33.3 307.4h0.8v0.8h-0.8zM33.3 312.0h0.8v0.8h-0.8zM35.3 315.5h0.8v0.8h-0.8zM31.9 316.9h0.8v0.8h-0.8zM35.3 312.3h0.8v0.8h-0.8zM31.1 310.2h0.8v0.8h-0.8zM31.1 310.1h0.8v0.8h-0.8zM28.5 306.9h0.8v0.8h-0.8zM30.9 309.9h0.8v0.8h-0.8zM31.1 310.2h0.8v0.8h-0.8zM34.7 311.7h0.8v0.8h-0.8zM34.2 308.1h0.8v0.8h-0.8zM34.3 310.4h0.8v0.8h-0.8zM30.7 308.0h0.8v0.8h-0.8zM32.1 314.0h0.8v0.8h-0.8zM38.6 308.8h0.8v0.8h-0.8zM35.7 311.1h0.8v0.8h-0.8zM33.0 311.5h0.8v0.8h-0.8zM29.3 313.1h0.8v0.8h-0.8zM31.3 311.4h0.8v0.8h-0.8zM34.6 309.4h0.8v0.8h-0.8zM31.3 311.6h0.8v0.8h-0.8zM30.2 310.4h0.8v0.8h-0.8zM33.5 313.0h0.8v0.8h-0.8zM34.2 308.9h0.8v0.8h-0.8zM30.2 309.5h0.8v0.8h-0.8zM33.9 311.5h0.8v0.8h-0.8zM26.8 311.6h0.8v0.8h-0.8zM31.8 309.2h0.8v0.8h-0.8zM31.1 311.4h0.8v0.8h-0.8zM33.2 308.9h0.8v0.8h-0.8zM33.5 311.5h0.8v0.8h-0.8zM35.7 311.1h0.8v0.8h-0.8zM33.5 312.2h0.8v0.8h-0.8zM31.5 314.5h0.8v0.8h-0.8zM32.4 308.9h0.8v0.8h-0.8zM32.6 315.2h0.8v0.8h-0.8zM31.6 310.8h0.8v0.8h-0.8zM28.7 310.9h0.8v0.8h-0.8zM33.6 314.6h0.8v0.8h-0.8zM29.6 312.3h0.8v0.8h-0.8zM31.7 309.3h0.8v0.8h-0.8zM29.7 309.9h0.8v0.8h-0.8zM30.4 312.2h0.8v0.8h-0.8zM31.7 303.3h0.8v0.8h-0.8zM33.7 308.5h0.8v0.8h-0.8zM33.3 309.6h0.8v0.8h-0.8zM34.4 312.8h0.8v0.8h-0.8zM33.3 308.9h0.8v0.8h-0.8zM31.9 314.9h0.8v0.8h-0.8zM31.0 310.5h0.8v0.8h-0.8zM30.6 311.8h0.8v0.8h-0.8zM28.7 314.9h0.8v0.8h-0.8zM32.5 309.5h0.8v0.8h-0.8zM31.2 313.1h0.8v0.8h-0.8zM34.7 309.9h0.8v0.8h-0.8zM34.7 312.6h0.8v0.8h-0.8zM31.8 309.3h0.8v0.8h-0.8zM27.9 315.1h0.8v0.8h-0.8zM31.6 313.0h0.8v0.8h-0.8zM30.9 315.4h0.8v0.8h-0.8zM33.7 312.0h0.8v0.8h-0.8zM31.5 316.2h0.8v0.8h-0.8zM34.4 313.2h0.8v0.8h-0.8zM42.3 305.8h0.8v0.8h-0.8zM32.3 307.2h0.8v0.8h-0.8zM34.1 315.0h0.8v0.8h-0.8zM35.4 314.5h0.8v0.8h-0.8zM31.7 316.3h0.8v0.8h-0.8zM29.8 312.8h0.8v0.8h-0.8zM31.4 308.9h0.8v0.8h-0.8zM33.3 314.6h0.8v0.8h-0.8zM32.3 309.4h0.8v0.8h-0.8zM33.4 303.4h0.8v0.8h-0.8zM30.9 311.7h0.8v0.8h-0.8zM32.1 305.3h0.8v0.8h-0.8zM32.3 310.1h0.8v0.8h-0.8zM35.3 309.4h0.8v0.8h-0.8zM33.9 316.2h0.8v0.8h-0.8zM33.7 314.5h0.8v0.8h-0.8zM32.9 312.0h0.8v0.8h-0.8zM32.2 306.3h0.8v0.8h-0.8zM33.5 307.2h0.8v0.8h-0.8zM33.1 311.7h0.8v0.8h-0.8zM30.3 312.0h0.8v0.8h-0.8zM32.3 311.8h0.8v0.8h-0.8zM28.5 306.0h0.8v0.8h-0.8zM32.7 311.7h0.8v0.8h-0.8zM33.1 311.4h0.8v0.8h-0.8zM32.8 312.9h0.8v0.8h-0.8zM32.6 309.2h0.8v0.8h-0.8zM32.3 305.8h0.8v0.8h-0.8zM31.5 313.0h0.8v0.8h-0.8zM33.5 307.7h0.8v0.8h-0.8zM28.8 311.0h0.8v0.8h-0.8zM33.2 315.2h0.8v0.8h-0.8zM31.9 308.5h0.8v0.8h-0.8zM33.0 310.1h0.8v0.8h-0.8zM29.5 316.8h0.8v0.8h-0.8zM36.6 313.1h0.8v0.8h-0.8zM33.4 313.4h0.8v0.8h-0.8zM31.9 311.8h0.8v0.8h-0.8zM31.5 315.0h0.8v0.8h-0.8zM32.4 311.0h0.8v0.8h-0.8zM32.6 311.8h0.8v0.8h-0.8zM30.4 315.1h0.8v0.8h-0.8zM32.3 309.0h0.8v0.8h-0.8zM30.8 304.9h0.8v0.8h-0.8zM31.1 308.0h0.8v0.8h-0.8zM33.6 311.0h0.8v0.8h-0.8zM30.3 308.5h0.8v0.8h-0.8zM34.0 310.2h0.8v0.8h-0.8zM35.3 308.1h0.8v0.8h-0.8zM34.4 310.7h0.8v0.8h-0.8zM32.4 308.5h0.8v0.8h-0.8zM33.7 310.8h0.8v0.8h-0.8zM32.4 309.7h0.8v0.8h-0.8zM32.1 314.4h0.8v0.8h-0.8zM29.7 305.6h0.8v0.8h-0.8zM28.9 313.9h0.8v0.8h-0.8zM33.6 308.1h0.8v0.8h-0.8zM33.3 313.6h0.8v0.8h-0.8zM33.1 311.3h0.8v0.8h-0.8zM32.4 311.3h0.8v0.8h-0.8zM35.2 312.3h0.8v0.8h-0.8zM32.9 319.9h0.8v0.8h-0.8zM33.6 306.5h0.8v0.8h-0.8zM33.0 307.5h0.8v0.8h-0.8zM34.5 313.0h0.8v0.8h-0.8zM34.1 313.3h0.8v0.8h-0.8zM36.7 306.1h0.8v0.8h-0.8zM33.5 306.6h0.8v0.8h-0.8zM32.1 308.6h0.8v0.8h-0.8zM31.1 312.6h0.8v0.8h-0.8zM32.5 309.9h0.8v0.8h-0.8zM35.8 312.6h0.8v0.8h-0.8zM30.0 311.3h0.8v0.8h-0.8zM30.6 315.2h0.8v0.8h-0.8zM29.8 309.7h0.8v0.8h-0.8zM32.4 313.2h0.8v0.8h-0.8zM35.5 309.7h0.8v0.8h-0.8zM33.0 315.4h0.8v0.8h-0.8zM32.9 312.5h0.8v0.8h-0.8zM31.6 315.9h0.8v0.8h-0.8zM32.3 310.6h0.8v0.8h-0.8zM29.5 311.6h0.8v0.8h-0.8zM32.2 311.2h0.8v0.8h-0.8zM31.9 308.2h0.8v0.8h-0.8zM37.8 311.5h0.8v0.8h-0.8zM32.1 313.2h0.8v0.8h-0.8zM34.0 312.8h0.8v0.8h-0.8zM33.3 312.7h0.8v0.8h-0.8zM35.1 314.4h0.8v0.8h-0.8zM34.7 309.6h0.8v0.8h-0.8zM31.3 314.8h0.8v0.8h-0.8zM36.5 313.5h0.8v0.8h-0.8z" fill="rgb(20,20,20)" opacity="0.8"/>
<path d="M31.1 311.5h0.8v0.8h-0.8zM31.9 312.9h0.8v0.8h-0.8zM35.4 315.1h0.8v0.8h-0.8zM31.7 310.7h0.8v0.8h-0.8zM33.2 306.8h0.8v0.8h-0.8zM33.6 305.8h0.8v0.8h-0.8zM33.0 311.9h0.8v0.8h-0.8zM29.8 312.0h0.8v0.8h-0.8zM36.4 314.6h0.8v0.8h-0.8zM33.3 314.4h0.8v0.8h-0.8zM32.1 309.9h0.8v0.8h-0.8zM34.7 304.8h0.8v0.8h-0.8zM33.6 312.4h0.8v0.8h-0.8zM34.0 313.2h0.8v0.8h-0.8zM32.2 311.8h0.8v0.8h-0.8zM33.7 308.7h0.8v0.8h-0.8zM33.8 312.2h0.8v0.8h-0.8zM33.0 306.3h0.8v0.8h-0.8zM33.8 316.4h0.8v0.8h-0.8zM34.3 308.5h0.8v0.8h-0.8zM31.7 313.0h0.8v0.8h-0.8zM30.3 313.5h0.8v0.8h-0.8zM30.5 311.4h0.8v0.8h-0.8zM34.3 312.0h0.8v0.8h-0.8zM30.1 312.5h0.8v0.8h-0.8zM28.7 307.4h0.8v0.8h-0.8zM34.0 314.5h0.8v0.8h-0.8zM31.0 317.0h0.8v0.8h-0.8zM32.9 308.8h0.8v0.8h-0.8zM31.7 306.5h0.8v0.8h-0.8zM35.1 309.7h0.8v0.8h-0.8zM30.6 311.5h0.8v0.8h-0.8zM36.5 306.6h0.8v0.8h-0.8zM33.4 309.3h0.8v0.8h-0.8zM28.6 318.7h0.8v0.8h-0.8zM33.6 311.4h0.8v0.8h-0.8zM32.1 305.5h0.8v0.8h-0.8zM34.0 309.8h0.8v0.8h-0.8zM36.1 317.6h0.8v0.8h-0.8zM33.8 307.7h0.8v0.8h-0.8zM33.4 308.0h0.8v0.8h-0.8zM32.7 313.4h0.8v0.8h-0.8zM31.4 313.4h0.8v0.8h-0.8zM35.0 311.0h0.8v0.8h-0.8zM31.0 309.4h0.8v0.8h-0.8zM32.3 311.5h0.8v0.8h-0.8zM32.1 315.7h0.8v0.8h-0.8zM31.8 314.0h0.8v0.8h-0.8zM29.4 318.2h0.8v0.8h-0.8zM31.1 310.8h0.8v0.8h-0.8zM31.1 317.2h0.8v0.8h-0.8zM29.9 311.5h0.8v0.8h-0.8zM32.6 310.2h0.8v0.8h-0.8zM30.5 308.3h0.8v0.8h-0.8zM35.2 310.5h0.8v0.8h-0.8zM34.8 310.8h0.8v0.8h-0.8zM31.8 309.2h0.8v0.8h-0.8zM31.6 315.1h0.8v0.8h-0.8zM36.4 306.9h0.8v0.8h-0.8zM36.5 311.2h0.8v0.8h-0.8zM33.8 311.9h0.8v0.8h-0.8zM32.1 313.3h0.8v0.8h-0.8zM32.4 309.0h0.8v0.8h-0.8zM33.3 310.6h0.8v0.8h-0.8zM34.4 312.6h0.8v0.8h-0.8zM34.8 313.3h0.8v0.8h-0.8zM28.9 313.2h0.8v0.8h-0.8zM32.1 309.2h0.8v0.8h-0.8zM34.0 310.5h0.8v0.8h-0.8zM30.6 309.1h0.8v0.8h-0.8zM31.9 309.9h0.8v0.8h-0.8zM33.2 309.8h0.8v0.8h-0.8zM34.2 313.9h0.8v0.8h-0.8zM34.5 306.4h0.8v0.8h-0.8zM26.2 312.7h0.8v0.8h-0.8zM32.2 315.3h0.8v0.8h-0.8zM34.3 314.3h0.8v0.8h-0.8zM30.3 312.1h0.8v0.8h-0.8zM34.1 313.8h0.8v0.8h-0.8zM34.5 308.4h0.8v0.8h-0.8zM30.7 307.8h0.8v0.8h-0.8zM35.4 309.8h0.8v0.8h-0.8zM34.0 310.3h0.8v0.8h-0.8zM33.5 309.9h0.8v0.8h-0.8zM35.7 308.6h0.8v0.8h-0.8zM32.2 312.6h0.8v0.8h-0.8zM31.3 309.8h0.8v0.8h-0.8zM34.9 307.6h0.8v0.8h-0.8zM30.0 309.9h0.8v0.8h-0.8zM30.2 310.8h0.8v0.8h-0.8zM32.8 310.0h0.8v0.8h-0.8zM32.3 313.2h0.8v0.8h-0.8zM34.9 313.0h0.8v0.8h-0.8zM29.6 311.7h0.8v0.8h-0.8zM29.3 312.2h0.8v0.8h-0.8zM32.3 306.4h0.8v0.8h-0.8zM34.1 315.4h0.8v0.8h-0.8zM25.2 310.1h0.8v0.8h-0.8zM28.5 313.4h0.8v0.8h-0.8zM33.4 307.3h0.8v0.8h-0.8zM35.5 310.1h0.8v0.8h-0.8zM28.4 309.4h0.8v0.8h-0.8zM31.1 308.4h0.8v0.8h-0.8zM30.0 313.1h0.8v0.8h-0.8zM30.7 310.4h0.8v0.8h-0.8zM32.4 317.1h0.8v0.8h-0.8zM38.1 316.1h0.8v0.8h-0.8zM36.4 313.0h0.8v0.8h-0.8zM32.8 310.7h0.8v0.8h-0.8zM33.3 311.3h0.8v0.8h-0.8zM34.0 312.4h0.8v0.8h-0.8zM29.2 311.0h0.8v0.8h-0.8zM30.1 312.2h0.8v0.8h-0.8zM35.3 313.4h0.8v0.8h-0.8zM33.7 314.7h0.8v0.8h-0.8zM30.4 311.3h0.8v0.8h-0.8zM29.7 314.5h0.8v0.8h-0.8zM30.0 311.6h0.8v0.8h-0.8zM29.0 311.8h0.8v0.8h-0.8zM31.8 310.1h0.8v0.8h-0.8zM34.7 310.6h0.8v0.8h-0.8zM32.3 306.8h0.8v0.8h-0.8zM32.7 310.1h0.8v0.8h-0.8zM33.3 306.2h0.8v0.8h-0.8zM31.2 310.9h0.8v0.8h-0.8zM31.0 310.5h0.8v0.8h-0.8zM34.1 309.5h0.8v0.8h-0.8zM29.6 312.6h0.8v0.8h-0.8zM30.5 310.8h0.8v0.8h-0.8zM33.1 308.9h0.8v0.8h-0.8zM33.2 310.4h0.8v0.8h-0.8zM33.7 313.0h0.8v0.8h-0.8zM28.5 308.7h0.8v0.8h-0.8zM35.8 309.9h0.8v0.8h-0.8zM34.9 310.0h0.8v0.8h-0.8zM33.6 313.0h0.8v0.8h-0.8zM30.1 315.9h0.8v0.8h-0.8zM35.8 309.8h0.8v0.8h-0.8zM33.8 313.8h0.8v0.8h-0.8zM34.5 312.4h0.8v0.8h-0.8zM34.3 307.6h0.8v0.8h-0.8zM30.1 305.0h0.8v0.8h-0.8zM31.4 307.0h0.8v0.8h-0.8zM33.9 311.8h0.8v0.8h-0.8zM33.3 313.4h0.8v0.8h-0.8zM30.5 310.8h0.8v0.8h-0.8zM32.3 310.4h0.8v0.8h-0.8zM32.0 314.1h0.8v0.8h-0.8zM29.4 310.1h0.8v0.8h-0.8zM31.9 311.0h0.8v0.8h-0.8zM29.7 314.3h0.8v0.8h-0.8zM30.3 311.0h0.8v0.8h-0.8zM33.5 313.2h0.8v0.8h-0.8zM32.5 308.6h0.8v0.8h-0.8zM35.3 314.5h0.8v0.8h-0.8zM34.5 307.8h0.8v0.8h-0.8zM34.0 311.3h0.8v0.8h-0.8zM33.2 311.0h0.8v0.8h-0.8zM32.2 306.1h0.8v0.8h-0.8zM35.0 309.1h0.8v0.8h-0.8zM32.0 306.2h0.8v0.8h-0.8zM31.4 308.4h0.8v0.8h-0.8zM30.8 310.4h0.8v0.8h-0.8zM32.8 310.1h0.8v0.8h-0.8zM30.4 308.9h0.8v0.8h-0.8zM30.1 309.8h0.8v0.8h-0.8zM32.1 315.2h0.8v0.8h-0.8zM33.6 312.6h0.8v0.8h-0.8zM32.3 312.1h0.8v0.8h-0.8zM33.9 309.4h0.8v0.8h-0.8zM27.1 313.5h0.8v0.8h-0.8zM29.5 311.9h0.8v0.8h-0.8zM33.4 311.8h0.8v0.8h-0.8zM31.4 310.5h0.8v0.8h-0.8zM34.6 312.8h0.8v0.8h-0.8zM31.0 312.8h0.8v0.8h-0.8zM33.4 314.3h0.8v0.8h-0.8zM31.8 311.1h0.8v0.8h-0.8zM29.9 311.0h0.8v0.8h-0.8zM36.6 314.9h0.8v0.8h-0.8zM34.0 310.7h0.8v0.8h-0.8zM29.6 310.0h0.8v0.8h-0.8zM33.2 315.2h0.8v0.8h-0.8zM34.1 305.7h0.8v0.8h-0.8zM30.6 308.5h0.8v0.8h-0.8zM32.7 312.5h0.8v0.8h-0.8zM31.4 313.2h0.8v0.8h-0.8zM33.7 314.0h0.8v0.8h-0.8zM34.3 310.3h0.8v0.8h-0.8zM32.5 311.1h0.8v0.8h-0.8zM35.2 301.3h0.8v0.8h-0.8zM36.5 307.0h0.8v0.8h-0.8zM32.6 308.7h0.8v0.8h-0.8zM36.0 309.9h0.8v0.8h-0.8zM33.7 312.3h0.8v0.8h-0.8zM30.8 310.1h0.8v0.8h-0.8zM33.3 310.8h0.8v0.8h-0.8zM29.1 305.5h0.8v0.8h-0.8zM29.6 309.5h0.8v0.8h-0.8zM33.4 311.9h0.8v0.8h-0.8zM30.9 312.6h0.8v0.8h-0.8zM29.3 306.2h0.8v0.8h-0.8zM35.0 313.2h0.8v0.8h-0.8zM31.9 308.5h0.8v0.8h-0.8zM33.5 310.2h0.8v0.8h-0.8zM34.5 313.9h0.8v0.8h-0.8zM31.6 312.7h0.8v0.8h-0.8zM34.7 312.9h0.8v0.8h-0.8zM32.1 313.8h0.8v0.8h-0.8zM32.0 310.8h0.8v0.8h-0.8zM30.8 305.4h0.8v0.8h-0.8zM35.7 315.6h0.8v0.8h-0.8zM34.4 313.3h0.8v0.8h-0.8zM35.7 310.3h0.8v0.8h-0.8zM37.7 312.2h0.8v0.8h-0.8zM29.2 314.8h0.8v0.8h-0.8zM31.5 313.3h0.8v0.8h-0.8zM33.6 308.1h0.8v0.8h-0.8zM32.3 316.3h0.8v0.8h-0.8zM32.5 316.2h0.8v0.8h-0.8zM35.0 309.3h0.8v0.8h-0.8zM34.4 305.5h0.8v0.8h-0.8zM33.7 304.1h0.8v0.8h-0.8zM29.5 309.2h0.8v0.8h-0.8zM29.5 306.6h0.8v0.8h-0.8zM31.5 312.8h0.8v0.8h-0.8zM31.1 308.8h0.8v0.8h-0.8zM33.2 310.6h0.8v0.8h-0.8zM33.1 308.7h0.8v0.8h-0.8zM31.9 310.2h0.8v0.8h-0.8zM32.7 312.6h0.8v0.8h-0.8zM32.1 312.3h0.8v0.8h-0.8zM29.3 306.4h0.8v0.8h-0.8zM34.7 310.9h0.8v0.8h-0.8zM32.3 313.7h0.8v0.8h-0.8zM32.3 310.0h0.8v0.8h-0.8zM30.8 306.9h0.8v0.8h-0.8zM33.7 311.5h0.8v0.8h-0.8zM31.2 314.0h0.8v0.8h-0.8zM37.4 310.6h0.8v0.8h-0.8zM34.0 317.1h0.8v0.8h-0.8zM36.4 308.6h0.8v0.8h-0.8zM35.2 309.5h0.8v0.8h-0.8zM32.8 310.8h0.8v0.8h-0.8zM35.1 306.7h0.8v0.8h-0.8zM33.1 317.0h0.8v0.8h-0.8zM32.8 310.4h0.8v0.8h-0.8z" fill="rgb(0,0,0)" opacity="0.8"/>
<path d="M32.9 315.2h0.8v0.8h-0.8zM34.0 311.8h0.8v0.8h-0.8zM34.2 308.2h0.8v0.8h-0.8zM32.3 310.9h0.8v0.8h-0.8zM31.2 312.5h0.8v0.8h-0.8zM32.1 309.6h0.8v0.8h-0.8zM33.6 308.8h0.8v0.8h-0.8zM29.1 311.4h0.8v0.8h-0.8zM31.2 309.2h0.8v0.8h-0.8zM33.4 313.8h0.8v0.8h-0.8zM31.6 308.4h0.8v0.8h-0.8zM33.2 307.6h0.8v0.8h-0.8zM33.5 312.9h0.8v0.8h-0.8zM31.4 312.8h0.8v0.8h-0.8zM34.3 311.2h0.8v0.8h-0.8zM33.5 314.2h0.8v0.8h-0.8zM31.2 312.8h0.8v0.8h-0.8zM31.8 309.1h0.8v0.8h-0.8zM31.5 311.5h0.8v0.8h-0.8zM32.5 308.7h0.8v0.8h-0.8zM34.3 313.6h0.8v0.8h-0.8zM31.3 313.3h0.8v0.8h-0.8zM34.1 311.8h0.8v0.8h-0.8zM30.8 310.2h0.8v0.8h-0.8zM34.0 310.7h0.8v0.8h-0.8zM32.6 309.0h0.8v0.8h-0.8zM33.5 310.8h0.8v0.8h-0.8zM33.4 309.0h0.8v0.8h-0.8zM32.4 312.7h0.8v0.8h-0.8zM33.1 309.1h0.8v0.8h-0.8zM31.1 314.0h0.8v0.8h-0.8zM32.0 309.3h0.8v0.8h-0.8zM35.2 309.5h0.8v0.8h-0.8zM34.0 312.8h0.8v0.8h-0.8zM32.1 310.5h0.8v0.8h-0.8zM32.6 313.1h0.8v0.8h-0.8zM33.9 309.3h0.8v0.8h-0.8zM32.7 309.5h0.8v0.8h-0.8zM35.1 309.5h0.8v0.8h-0.8zM33.5 310.8h0.8v0.8h-0.8zM31.6 310.3h0.8v0.8h-0.8zM31.2 309.9h0.8v0.8h-0.8zM30.6 312.0h0.8v0.8h-0.8zM32.9 316.5h0.8v0.8h-0.8zM33.2 312.8h0.8v0.8h-0.8zM31.8 312.9h0.8v0.8h-0.8zM33.9 310.4h0.8v0.8h-0.8zM32.7 316.2h0.8v0.8h-0.8zM32.4 310.8h0.8v0.8h-0.8zM31.0 315.9h0.8v0.8h-0.8zM32.8 311.1h0.8v0.8h-0.8zM33.9 311.3h0.8v0.8h-0.8zM32.5 313.4h0.8v0.8h-0.8zM31.7 312.7h0.8v0.8h-0.8zM31.7 311.7h0.8v0.8h-0.8zM33.5 312.6h0.8v0.8h-0.8zM32.0 313.9h0.8v0.8h-0.8zM33.6 313.1h0.8v0.8h-0.8zM33.2 311.1h0.8v0.8h-0.8zM29.8 311.6h0.8v0.8h-0.8zM30.7 313.1h0.8v0.8h-0.8zM34.2 312.1h0.8v0.8h-0.8zM31.2 311.4h0.8v0.8h-0.8zM30.4 312.9h0.8v0.8h-0.8zM32.4 312.8h0.8v0.8h-0.8zM31.9 313.4h0.8v0.8h-0.8zM33.0 305.8h0.8v0.8h-0.8zM32.1 313.8h0.8v0.8h-0.8zM32.3 311.1h0.8v0.8h-0.8zM32.5 311.8h0.8v0.8h-0.8zM30.8 314.8h0.8v0.8h-0.8zM32.8 314.1h0.8v0.8h-0.8zM31.2 309.2h0.8v0.8h-0.8zM33.8 311.7h0.8v0.8h-0.8zM32.5 314.9h0.8v0.8h-0.8zM32.9 311.7h0.8v0.8h-0.8zM33.9 309.8h0.8v0.8h-0.8zM30.7 309.6h0.8v0.8h-0.8zM34.4 309.2h0.8v0.8h-0.8zM32.3 310.9h0.8v0.8h-0.8zM30.9 312.7h0.8v0.8h-0.8zM32.4 315.7h0.8v0.8h-0.8zM31.0 310.6h0.8v0.8h-0.8zM31.5 311.9h0.8v0.8h-0.8zM32.6 312.3h0.8v0.8h-0.8zM34.6 312.0h0.8v0.8h-0.8zM33.6 310.5h0.8v0.8h-0.8zM31.5 315.8h0.8v0.8h-0.8zM32.4 314.4h0.8v0.8h-0.8zM31.5 311.4h0.8v0.8h-0.8zM31.0 308.4h0.8v0.8h-0.8zM31.3 310.0h0.8v0.8h-0.8zM32.5 313.4h0.8v0.8h-0.8zM34.9 310.9h0.8v0.8h-0.8zM31.2 315.6h0.8v0.8h-0.8zM34.4 309.0h0.8v0.8h-0.8zM33.2 314.6h0.8v0.8h-0.8zM34.3 312.0h0.8v0.8h-0.8zM33.7 309.6h0.8v0.8h-0.8zM34.3 309.4h0.8v0.8h-0.8zM33.6 310.9h0.8v0.8h-0.8zM32.8 309.0h0.8v0.8h-0.8zM32.7 314.7h0.8v0.8h-0.8zM30.3 314.8h0.8v0.8h-0.8zM33.8 313.9h0.8v0.8h-0.8zM33.0 310.4h0.8v0.8h-0.8zM31.5 313.8h0.8v0.8h-0.8zM34.0 313.7h0.8v0.8h-0.8zM31.6 311.7h0.8v0.8h-0.8zM32.5 309.5h0.8v0.8h-0.8zM31.9 314.3h0.8v0.8h-0.8zM32.8 309.9h0.8v0.8h-0.8zM32.9 311.8h0.8v0.8h-0.8zM34.1 311.7h0.8v0.8h-0.8zM34.8 313.6h0.8v0.8h-0.8zM32.7 314.2h0.8v0.8h-0.8zM31.8 305.3h0.8v0.8h-0.8zM32.8 309.7h0.8v0.8h-0.8zM30.2 312.6h0.8v0.8h-0.8zM31.3 314.1h0.8v0.8h-0.8zM29.0 316.3h0.8v0.8h-0.8zM30.3 312.0h0.8v0.8h-0.8zM31.3 308.0h0.8v0.8h-0.8zM32.5 308.4h0.8v0.8h-0.8zM32.8 309.2h0.8v0.8h-0.8zM30.3 311.0h0.8v0.8h-0.8zM30.0 312.4h0.8v0.8h-0.8zM33.4 310.1h0.8v0.8h-0.8zM32.0 309.0h0.8v0.8h-0.8zM31.4 307.4h0.8v0.8h-0.8zM34.3 314.5h0.8v0.8h-0.8zM31.9 310.5h0.8v0.8h-0.8zM30.9 311.9h0.8v0.8h-0.8zM32.2 311.2h0.8v0.8h-0.8zM33.2 310.1h0.8v0.8h-0.8zM31.6 312.5h0.8v0.8h-0.8zM33.9 309.1h0.8v0.8h-0.8zM32.4 311.9h0.8v0.8h-0.8zM32.5 315.7h0.8v0.8h-0.8zM31.9 309.6h0.8v0.8h-0.8zM33.0 306.9h0.8v0.8h-0.8zM32.9 313.4h0.8v0.8h-0.8zM33.2 314.7h0.8v0.8h-0.8zM31.9 311.3h0.8v0.8h-0.8zM32.6 312.8h0.8v0.8h-0.8zM32.9 308.3h0.8v0.8h-0.8zM32.4 307.9h0.8v0.8h-0.8zM29.4 313.2h0.8v0.8h-0.8zM30.8 311.2h0.8v0.8h-0.8zM34.1 308.3h0.8v0.8h-0.8zM32.1 309.2h0.8v0.8h-0.8zM32.3 308.9h0.8v0.8h-0.8zM32.1 313.1h0.8v0.8h-0.8zM31.7 312.9h0.8v0.8h-0.8zM31.6 311.0h0.8v0.8h-0.8zM31.5 313.2h0.8v0.8h-0.8zM32.5 306.9h0.8v0.8h-0.8zM35.1 310.6h0.8v0.8h-0.8zM30.5 311.1h0.8v0.8h-0.8zM34.2 312.2h0.8v0.8h-0.8zM32.3 312.9h0.8v0.8h-0.8zM31.9 307.5h0.8v0.8h-0.8zM33.0 311.7h0.8v0.8h-0.8zM33.2 312.4h0.8v0.8h-0.8zM34.2 314.7h0.8v0.8h-0.8zM30.2 312.0h0.8v0.8h-0.8zM32.2 311.5h0.8v0.8h-0.8zM34.2 310.4h0.8v0.8h-0.8zM31.5 309.7h0.8v0.8h-0.8zM31.6 308.2h0.8v0.8h-0.8zM33.5 315.1h0.8v0.8h-0.8zM34.9 311.9h0.8v0.8h-0.8zM32.2 316.0h0.8v0.8h-0.8zM33.4 313.2h0.8v0.8h-0.8zM31.8 310.9h0.8v0.8h-0.8zM34.1 311.2h0.8v0.8h-0.8z" fill="rgb(0,0,0)" opacity="0.9"/>
<path d="M32.5 309.6h0.8v0.8h-0.8zM33.3 312.7h0.8v0.8h-0.8zM30.4 314.2h0.8v0.8h-0.8zM32.2 309.7h0.8v0.8h-0.8zM31.9 312.6h0.8v0.8h-0.8zM31.1 311.6h0.8v0.8h-0.8zM30.3 312.3h0.8v0.8h-0.8zM33.7 309.6h0.8v0.8h-0.8zM29.6 310.5h0.8v0.8h-0.8zM33.5 309.3h0.8v0.8h-0.8zM29.9 313.7h0.8v0.8h-0.8zM33.9 315.4h0.8v0.8h-0.8zM30.9 313.6h0.8v0.8h-0.8zM32.0 310.4h0.8v0.8h-0.8zM30.7 311.3h0.8v0.8h-0.8zM32.2 308.4h0.8v0.8h-0.8zM33.9 312.6h0.8v0.8h-0.8zM31.0 311.6h0.8v0.8h-0.8zM31.0 310.3h0.8v0.8h-0.8zM31.7 311.9h0.8v0.8h-0.8zM31.8 312.2h0.8v0.8h-0.8zM30.4 310.6h0.8v0.8h-0.8zM31.9 309.8h0.8v0.8h-0.8zM30.9 313.5h0.8v0.8h-0.8zM29.8 311.6h0.8v0.8h-0.8zM34.9 314.3h0.8v0.8h-0.8zM33.4 310.6h0.8v0.8h-0.8zM31.4 310.5h0.8v0.8h-0.8zM32.7 314.8h0.8v0.8h-0.8zM32.9 309.8h0.8v0.8h-0.8zM33.0 314.0h0.8v0.8h-0.8zM34.1 313.8h0.8v0.8h-0.8zM31.1 312.9h0.8v0.8h-0.8zM32.2 313.1h0.8v0.8h-0.8zM33.9 310.2h0.8v0.8h-0.8zM31.2 310.9h0.8v0.8h-0.8zM31.5 311.0h0.8v0.8h-0.8zM35.3 312.9h0.8v0.8h-0.8zM31.0 310.4h0.8v0.8h-0.8zM29.8 312.0h0.8v0.8h-0.8zM31.4 312.6h0.8v0.8h-0.8zM31.1 310.3h0.8v0.8h-0.8zM32.1 307.8h0.8v0.8h-0.8zM32.4 311.7h0.8v0.8h-0.8zM32.9 309.7h0.8v0.8h-0.8zM31.9 311.8h0.8v0.8h-0.8zM36.3 309.8h0.8v0.8h-0.8zM33.7 309.2h0.8v0.8h-0.8zM32.9 311.1h0.8v0.8h-0.8zM33.3 311.6h0.8v0.8h-0.8zM32.3 313.5h0.8v0.8h-0.8zM32.6 313.6h0.8v0.8h-0.8zM33.9 308.9h0.8v0.8h-0.8zM33.4 313.2h0.8v0.8h-0.8zM34.8 311.4h0.8v0.8h-0.8zM31.2 311.2h0.8v0.8h-0.8zM34.0 315.8h0.8v0.8h-0.8zM34.9 308.6h0.8v0.8h-0.8zM33.4 311.1h0.8v0.8h-0.8zM32.4 313.2h0.8v0.8h-0.8zM32.2 313.7h0.8v0.8h-0.8zM32.5 309.4h0.8v0.8h-0.8zM32.4 309.7h0.8v0.8h-0.8zM34.0 310.4h0.8v0.8h-0.8zM34.9 314.4h0.8v0.8h-0.8zM33.3 311.9h0.8v0.8h-0.8zM34.0 312.5h0.8v0.8h-0.8zM32.4 311.0h0.8v0.8h-0.8zM31.2 309.1h0.8v0.8h-0.8zM36.1 310.8h0.8v0.8h-0.8zM33.1 310.1h0.8v0.8h-0.8zM31.3 313.2h0.8v0.8h-0.8zM32.4 310.2h0.8v0.8h-0.8zM33.1 312.8h0.8v0.8h-0.8z" fill="rgb(20,20,20)" opacity="0.9"/>
<path d="M35.8 332.3h0.8v0.8h-0.8zM28.5 327.7h0.8v0.8h-0.8zM31.9 326.4h0.8v0.8h-0.8zM34.3 346.7h0.8v0.8h-0.8zM37.5 330.1h0.8v0.8h-0.8zM35.6 320.6h0.8v0.8h-0.8zM38.9 342.0h0.8v0.8h-0.8zM37.8 327.6h0.8v0.8h-0.8zM35.9 336.9h0.8v0.8h-0.8zM34.6 345.4h0.8v0.8h-0.8zM37.4 334.1h0.8v0.8h-0.8zM28.4 312.5h0.8v0.8h-0.8zM30.4 319.9h0.8v0.8h-0.8zM37.7 335.2h0.8v0.8h-0.8zM32.3 323.2h0.8v0.8h-0.8zM34.3 331.0h0.8v0.8h-0.8zM33.2 332.6h0.8v0.8h-0.8zM34.8 343.4h0.8v0.8h-0.8zM33.5 319.1h0.8v0.8h-0.8zM29.9 344.1h0.8v0.8h-0.8zM34.5 323.8h0.8v0.8h-0.8zM33.3 329.2h0.8v0.8h-0.8zM36.7 317.4h0.8v0.8h-0.8zM32.8 335.1h0.8v0.8h-0.8zM40.0 348.9h0.8v0.8h-0.8zM27.9 325.3h0.8v0.8h-0.8zM31.5 333.0h0.8v0.8h-0.8zM31.4 340.5h0.8v0.8h-0.8zM27.7 329.3h0.8v0.8h-0.8zM39.2 324.5h0.8v0.8h-0.8zM28.7 338.4h0.8v0.8h-0.8zM30.5 329.5h0.8v0.8h-0.8zM31.9 339.4h0.8v0.8h-0.8zM41.4 320.3h0.8v0.8h-0.8zM33.0 329.1h0.8v0.8h-0.8zM32.9 335.5h0.8v0.8h-0.8zM24.7 331.2h0.8v0.8h-0.8zM29.0 338.8h0.8v0.8h-0.8zM36.5 330.3h0.8v0.8h-0.8zM39.5 329.0h0.8v0.8h-0.8zM34.8 331.0h0.8v0.8h-0.8zM36.2 339.2h0.8v0.8h-0.8zM40.6 329.0h0.8v0.8h-0.8zM31.0 355.4h0.8v0.8h-0.8zM35.6 346.4h0.8v0.8h-0.8zM35.7 334.2h0.8v0.8h-0.8zM32.1 331.0h0.8v0.8h-0.8zM39.6 321.9h0.8v0.8h-0.8zM34.0 332.5h0.8v0.8h-0.8zM30.8 341.2h0.8v0.8h-0.8zM26.3 327.7h0.8v0.8h-0.8zM41.2 320.0h0.8v0.8h-0.8zM40.5 338.6h0.8v0.8h-0.8zM33.6 330.1h0.8v0.8h-0.8zM38.9 331.0h0.8v0.8h-0.8zM33.0 332.5h0.8v0.8h-0.8zM32.1 319.7h0.8v0.8h-0.8zM30.2 329.1h0.8v0.8h-0.8zM33.3 319.1h0.8v0.8h-0.8zM31.2 341.8h0.8v0.8h-0.8zM34.8 341.2h0.8v0.8h-0.8zM32.9 332.5h0.8v0.8h-0.8zM32.1 335.0h0.8v0.8h-0.8zM31.7 329.3h0.8v0.8h-0.8zM39.9 327.5h0.8v0.8h-0.8zM30.5 336.7h0.8v0.8h-0.8zM28.6 335.5h0.8v0.8h-0.8zM35.0 317.1h0.8v0.8h-0.8zM36.0 325.3h0.8v0.8h-0.8zM27.6 314.1h0.8v0.8h-0.8zM30.7 327.1h0.8v0.8h-0.8zM28.4 323.9h0.8v0.8h-0.8zM35.0 337.4h0.8v0.8h-0.8zM33.1 337.8h0.8v0.8h-0.8zM34.1 326.6h0.8v0.8h-0.8zM33.3 331.9h0.8v0.8h-0.8zM33.3 324.1h0.8v0.8h-0.8z" fill="rgb(0,0,0)" opacity="0.55"/>
<path d="M31.5 327.6h0.8v0.8h-0.8zM32.2 338.1h0.8v0.8h-0.8zM35.9 340.8h0.8v0.8h-0.8zM28.4 329.2h0.8v0.8h-0.8zM31.9 336.2h0.8v0.8h-0.8zM33.0 333.6h0.8v0.8h-0.8zM32.3 327.3h0.8v0.8h-0.8zM28.7 332.9h0.8v0.8h-0.8zM30.2 330.1h0.8v0.8h-0.8zM27.7 326.7h0.8v0.8h-0.8zM30.2 333.7h0.8v0.8h-0.8zM32.3 335.8h0.8v0.8h-0.8zM31.8 323.6h0.8v0.8h-0.8zM39.2 334.6h0.8v0.8h-0.8zM33.1 329.4h0.8v0.8h-0.8zM35.1 322.7h0.8v0.8h-0.8zM35.5 330.4h0.8v0.8h-0.8zM33.7 331.2h0.8v0.8h-0.8zM30.8 337.0h0.8v0.8h-0.8zM28.9 333.4h0.8v0.8h-0.8zM34.3 327.6h0.8v0.8h-0.8zM34.5 336.1h0.8v0.8h-0.8zM32.1 341.5h0.8v0.8h-0.8zM33.2 328.5h0.8v0.8h-0.8zM37.7 328.4h0.8v0.8h-0.8zM29.8 324.6h0.8v0.8h-0.8zM33.9 324.7h0.8v0.8h-0.8zM36.1 325.3h0.8v0.8h-0.8zM30.2 335.8h0.8v0.8h-0.8zM33.8 336.2h0.8v0.8h-0.8zM34.3 314.4h0.8v0.8h-0.8zM31.7 323.6h0.8v0.8h-0.8zM35.7 328.6h0.8v0.8h-0.8zM32.5 311.0h0.8v0.8h-0.8zM36.8 336.9h0.8v0.8h-0.8zM33.9 343.1h0.8v0.8h-0.8zM30.7 321.4h0.8v0.8h-0.8zM29.7 335.0h0.8v0.8h-0.8zM35.2 318.7h0.8v0.8h-0.8zM30.4 338.6h0.8v0.8h-0.8zM35.5 330.2h0.8v0.8h-0.8zM38.3 330.9h0.8v0.8h-0.8zM38.1 328.5h0.8v0.8h-0.8zM35.7 317.9h0.8v0.8h-0.8zM34.4 340.9h0.8v0.8h-0.8zM35.0 328.0h0.8v0.8h-0.8zM30.0 331.6h0.8v0.8h-0.8zM32.2 339.1h0.8v0.8h-0.8zM28.8 326.9h0.8v0.8h-0.8zM35.5 332.0h0.8v0.8h-0.8zM35.2 319.4h0.8v0.8h-0.8zM36.2 344.5h0.8v0.8h-0.8zM34.6 344.3h0.8v0.8h-0.8zM35.0 312.9h0.8v0.8h-0.8zM31.4 334.0h0.8v0.8h-0.8zM29.4 337.2h0.8v0.8h-0.8zM28.1 343.0h0.8v0.8h-0.8zM38.3 321.5h0.8v0.8h-0.8zM32.5 332.5h0.8v0.8h-0.8zM31.1 327.5h0.8v0.8h-0.8zM36.2 331.3h0.8v0.8h-0.8zM40.4 340.8h0.8v0.8h-0.8zM35.2 339.2h0.8v0.8h-0.8zM31.5 325.5h0.8v0.8h-0.8zM28.2 333.9h0.8v0.8h-0.8zM27.0 328.1h0.8v0.8h-0.8zM28.7 333.1h0.8v0.8h-0.8zM32.8 316.0h0.8v0.8h-0.8zM42.6 329.0h0.8v0.8h-0.8zM38.8 339.2h0.8v0.8h-0.8zM36.3 328.8h0.8v0.8h-0.8zM36.9 333.6h0.8v0.8h-0.8zM31.0 334.8h0.8v0.8h-0.8zM31.3 332.6h0.8v0.8h-0.8zM30.0 346.4h0.8v0.8h-0.8zM31.0 354.7h0.8v0.8h-0.8zM35.2 329.6h0.8v0.8h-0.8zM41.1 330.3h0.8v0.8h-0.8zM34.8 335.0h0.8v0.8h-0.8zM32.2 335.0h0.8v0.8h-0.8zM43.7 329.4h0.8v0.8h-0.8zM33.7 333.5h0.8v0.8h-0.8zM40.9 320.8h0.8v0.8h-0.8zM25.1 321.0h0.8v0.8h-0.8zM27.3 325.0h0.8v0.8h-0.8zM33.1 326.3h0.8v0.8h-0.8zM36.1 338.3h0.8v0.8h-0.8zM35.0 329.3h0.8v0.8h-0.8zM29.8 331.3h0.8v0.8h-0.8z" fill="rgb(20,20,20)" opacity="0.55"/>
<path d="M36.7 341.9h0.8v0.8h-0.8zM39.4 338.1h0.8v0.8h-0.8zM36.4 332.0h0.8v0.8h-0.8zM36.0 344.5h0.8v0.8h-0.8zM28.5 333.8h0.8v0.8h-0.8zM37.9 337.0h0.8v0.8h-0.8zM38.4 326.2h0.8v0.8h-0.8zM34.9 338.6h0.8v0.8h-0.8zM34.2 320.7h0.8v0.8h-0.8zM35.8 317.9h0.8v0.8h-0.8zM32.3 326.2h0.8v0.8h-0.8zM32.5 340.0h0.8v0.8h-0.8zM34.1 344.1h0.8v0.8h-0.8zM33.1 325.6h0.8v0.8h-0.8zM36.6 330.4h0.8v0.8h-0.8zM31.4 334.6h0.8v0.8h-0.8zM29.3 327.6h0.8v0.8h-0.8zM34.1 332.1h0.8v0.8h-0.8zM32.7 338.9h0.8v0.8h-0.8zM36.1 327.3h0.8v0.8h-0.8zM30.3 320.2h0.8v0.8h-0.8zM25.8 329.5h0.8v0.8h-0.8zM34.0 338.1h0.8v0.8h-0.8zM22.8 328.3h0.8v0.8h-0.8zM30.1 330.1h0.8v0.8h-0.8zM33.0 331.5h0.8v0.8h-0.8zM37.1 322.5h0.8v0.8h-0.8zM27.4 327.4h0.8v0.8h-0.8zM32.1 328.7h0.8v0.8h-0.8zM40.2 337.3h0.8v0.8h-0.8zM37.4 327.4h0.8v0.8h-0.8zM32.2 325.4h0.8v0.8h-0.8zM32.1 322.5h0.8v0.8h-0.8zM27.9 326.1h0.8v0.8h-0.8zM39.1 338.4h0.8v0.8h-0.8zM38.8 334.4h0.8v0.8h-0.8zM29.4 320.5h0.8v0.8h-0.8zM33.1 336.5h0.8v0.8h-0.8zM29.3 324.2h0.8v0.8h-0.8zM32.5 331.8h0.8v0.8h-0.8zM31.1 322.2h0.8v0.8h-0.8zM35.1 331.2h0.8v0.8h-0.8zM31.5 342.6h0.8v0.8h-0.8zM28.6 341.0h0.8v0.8h-0.8zM23.0 338.6h0.8v0.8h-0.8zM32.0 328.5h0.8v0.8h-0.8zM31.8 323.7h0.8v0.8h-0.8zM37.8 326.6h0.8v0.8h-0.8zM30.5 328.3h0.8v0.8h-0.8zM33.9 322.0h0.8v0.8h-0.8zM33.7 323.7h0.8v0.8h-0.8zM35.3 332.0h0.8v0.8h-0.8zM22.8 323.3h0.8v0.8h-0.8zM39.4 324.2h0.8v0.8h-0.8zM30.9 338.7h0.8v0.8h-0.8zM32.6 328.2h0.8v0.8h-0.8zM33.5 336.8h0.8v0.8h-0.8zM34.4 338.5h0.8v0.8h-0.8zM32.7 339.9h0.8v0.8h-0.8zM33.5 330.8h0.8v0.8h-0.8zM37.3 345.3h0.8v0.8h-0.8zM28.1 350.3h0.8v0.8h-0.8zM31.4 331.1h0.8v0.8h-0.8zM37.2 344.8h0.8v0.8h-0.8zM32.6 341.2h0.8v0.8h-0.8zM30.2 332.3h0.8v0.8h-0.8zM30.0 330.5h0.8v0.8h-0.8zM32.3 343.5h0.8v0.8h-0.8zM34.0 332.2h0.8v0.8h-0.8zM32.7 337.4h0.8v0.8h-0.8zM30.8 318.0h0.8v0.8h-0.8zM28.8 339.4h0.8v0.8h-0.8zM29.3 330.9h0.8v0.8h-0.8zM34.5 338.8h0.8v0.8h-0.8zM36.0 335.8h0.8v0.8h-0.8zM31.6 338.0h0.8v0.8h-0.8zM29.2 334.1h0.8v0.8h-0.8z" fill="rgb(60,60,60)" opacity="0.55"/>
<path d="M33.0 329.0h0.8v0.8h-0.8zM32.0 350.4h0.8v0.8h-0.8zM38.2 330.3h0.8v0.8h-0.8zM29.4 307.5h0.8v0.8h-0.8zM27.0 312.6h0.8v0.8h-0.8zM33.5 325.2h0.8v0.8h-0.8zM33.4 343.6h0.8v0.8h-0.8zM35.2 329.3h0.8v0.8h-0.8zM35.1 332.6h0.8v0.8h-0.8zM29.0 331.8h0.8v0.8h-0.8zM39.1 336.9h0.8v0.8h-0.8zM27.5 332.8h0.8v0.8h-0.8zM37.9 328.7h0.8v0.8h-0.8zM28.2 326.1h0.8v0.8h-0.8zM33.7 346.5h0.8v0.8h-0.8zM28.5 330.9h0.8v0.8h-0.8zM30.0 326.4h0.8v0.8h-0.8zM25.2 336.3h0.8v0.8h-0.8zM32.2 326.3h0.8v0.8h-0.8zM34.3 329.2h0.8v0.8h-0.8zM34.8 336.6h0.8v0.8h-0.8zM37.7 328.9h0.8v0.8h-0.8zM30.0 332.2h0.8v0.8h-0.8zM31.9 335.6h0.8v0.8h-0.8zM39.5 345.6h0.8v0.8h-0.8zM32.1 335.8h0.8v0.8h-0.8zM32.4 332.3h0.8v0.8h-0.8zM39.6 319.1h0.8v0.8h-0.8zM29.4 334.1h0.8v0.8h-0.8zM36.2 325.3h0.8v0.8h-0.8zM37.2 338.9h0.8v0.8h-0.8zM37.0 345.5h0.8v0.8h-0.8zM35.5 348.8h0.8v0.8h-0.8zM29.3 343.2h0.8v0.8h-0.8zM30.0 336.2h0.8v0.8h-0.8zM32.5 325.1h0.8v0.8h-0.8zM39.8 324.1h0.8v0.8h-0.8zM32.0 328.7h0.8v0.8h-0.8zM36.5 336.2h0.8v0.8h-0.8zM39.4 329.6h0.8v0.8h-0.8zM41.1 328.0h0.8v0.8h-0.8zM29.2 339.1h0.8v0.8h-0.8zM35.3 315.8h0.8v0.8h-0.8zM28.2 334.9h0.8v0.8h-0.8zM32.1 333.3h0.8v0.8h-0.8zM28.0 338.8h0.8v0.8h-0.8zM37.9 327.1h0.8v0.8h-0.8zM29.8 339.2h0.8v0.8h-0.8zM30.0 320.2h0.8v0.8h-0.8zM30.7 348.6h0.8v0.8h-0.8zM37.0 319.4h0.8v0.8h-0.8zM31.5 332.3h0.8v0.8h-0.8zM31.6 332.4h0.8v0.8h-0.8zM35.9 325.2h0.8v0.8h-0.8zM36.8 324.0h0.8v0.8h-0.8zM32.9 324.9h0.8v0.8h-0.8zM34.2 316.3h0.8v0.8h-0.8zM31.5 329.1h0.8v0.8h-0.8zM29.4 326.2h0.8v0.8h-0.8zM30.9 334.1h0.8v0.8h-0.8zM29.1 328.6h0.8v0.8h-0.8zM33.0 340.1h0.8v0.8h-0.8zM35.4 328.7h0.8v0.8h-0.8zM31.0 335.4h0.8v0.8h-0.8zM35.5 340.1h0.8v0.8h-0.8zM30.2 341.8h0.8v0.8h-0.8zM36.1 334.1h0.8v0.8h-0.8zM33.5 328.8h0.8v0.8h-0.8zM33.7 335.5h0.8v0.8h-0.8zM28.7 350.0h0.8v0.8h-0.8zM37.2 330.5h0.8v0.8h-0.8zM31.3 317.8h0.8v0.8h-0.8z" fill="rgb(80,80,80)" opacity="0.55"/>
<path d="M39.2 337.3h0.8v0.8h-0.8zM31.9 331.0h0.8v0.8h-0.8zM31.1 326.2h0.8v0.8h-0.8zM32.2 345.5h0.8v0.8h-0.8zM27.9 329.1h0.8v0.8h-0.8zM30.5 321.7h0.8v0.8h-0.8zM32.6 337.1h0.8v0.8h-0.8zM33.9 338.5h0.8v0.8h-0.8zM31.7 337.8h0.8v0.8h-0.8zM32.1 347.4h0.8v0.8h-0.8zM31.7 330.0h0.8v0.8h-0.8zM43.0 308.5h0.8v0.8h-0.8zM37.7 341.6h0.8v0.8h-0.8zM39.0 339.1h0.8v0.8h-0.8zM35.0 326.4h0.8v0.8h-0.8zM30.6 337.6h0.8v0.8h-0.8zM33.1 326.0h0.8v0.8h-0.8zM33.6 336.6h0.8v0.8h-0.8zM35.6 332.8h0.8v0.8h-0.8zM25.2 327.5h0.8v0.8h-0.8zM35.1 328.6h0.8v0.8h-0.8zM34.4 322.0h0.8v0.8h-0.8zM26.0 338.8h0.8v0.8h-0.8zM34.0 325.4h0.8v0.8h-0.8zM40.2 332.6h0.8v0.8h-0.8zM37.6 326.7h0.8v0.8h-0.8zM34.2 340.2h0.8v0.8h-0.8zM36.5 324.1h0.8v0.8h-0.8zM31.7 332.4h0.8v0.8h-0.8zM31.5 313.5h0.8v0.8h-0.8zM27.4 329.7h0.8v0.8h-0.8zM33.1 321.8h0.8v0.8h-0.8zM31.8 333.1h0.8v0.8h-0.8zM28.2 323.8h0.8v0.8h-0.8zM32.5 337.4h0.8v0.8h-0.8zM39.3 333.8h0.8v0.8h-0.8zM34.8 338.3h0.8v0.8h-0.8zM39.6 328.7h0.8v0.8h-0.8zM29.1 315.9h0.8v0.8h-0.8zM31.7 327.0h0.8v0.8h-0.8zM25.1 342.2h0.8v0.8h-0.8zM36.9 339.1h0.8v0.8h-0.8zM40.3 332.1h0.8v0.8h-0.8zM31.8 329.4h0.8v0.8h-0.8zM33.1 324.6h0.8v0.8h-0.8zM35.3 337.8h0.8v0.8h-0.8zM34.1 327.5h0.8v0.8h-0.8zM34.2 328.1h0.8v0.8h-0.8zM34.6 327.3h0.8v0.8h-0.8zM33.1 325.4h0.8v0.8h-0.8zM31.5 331.8h0.8v0.8h-0.8zM41.8 315.3h0.8v0.8h-0.8zM36.2 327.5h0.8v0.8h-0.8zM36.4 324.6h0.8v0.8h-0.8zM28.9 324.7h0.8v0.8h-0.8zM32.7 327.1h0.8v0.8h-0.8zM27.0 335.9h0.8v0.8h-0.8zM36.4 338.2h0.8v0.8h-0.8zM32.6 333.1h0.8v0.8h-0.8zM32.0 325.5h0.8v0.8h-0.8zM28.6 326.3h0.8v0.8h-0.8zM30.9 322.2h0.8v0.8h-0.8zM37.0 330.8h0.8v0.8h-0.8zM33.3 325.7h0.8v0.8h-0.8zM39.0 332.5h0.8v0.8h-0.8zM35.8 332.6h0.8v0.8h-0.8zM32.7 333.2h0.8v0.8h-0.8z" fill="rgb(100,100,100)" opacity="0.55"/>
<path d="M34.3 343.5h0.8v0.8h-0.8zM37.0 325.6h0.8v0.8h-0.8zM33.3 320.1h0.8v0.8h-0.8zM22.5 336.7h0.8v0.8h-0.8zM32.9 325.9h0.8v0.8h-0.8zM32.8 336.1h0.8v0.8h-0.8zM34.4 336.6h0.8v0.8h-0.8zM35.6 326.8h0.8v0.8h-0.8zM23.7 316.1h0.8v0.8h-0.8zM38.1 336.0h0.8v0.8h-0.8zM37.2 329.6h0.8v0.8h-0.8zM29.8 319.7h0.8v0.8h-0.8zM36.9 329.2h0.8v0.8h-0.8zM36.3 326.1h0.8v0.8h-0.8zM32.2 337.6h0.8v0.8h-0.8zM27.2 332.8h0.8v0.8h-0.8zM31.6 333.7h0.8v0.8h-0.8zM34.0 327.5h0.8v0.8h-0.8zM31.5 320.9h0.8v0.8h-0.8zM25.6 327.2h0.8v0.8h-0.8zM45.4 336.5h0.8v0.8h-0.8zM33.2 338.2h0.8v0.8h-0.8zM33.7 346.3h0.8v0.8h-0.8zM31.8 329.2h0.8v0.8h-0.8zM31.3 324.9h0.8v0.8h-0.8zM33.6 326.3h0.8v0.8h-0.8zM29.8 322.3h0.8v0.8h-0.8zM28.5 335.2h0.8v0.8h-0.8zM34.4 320.8h0.8v0.8h-0.8zM31.6 330.8h0.8v0.8h-0.8zM36.4 339.5h0.8v0.8h-0.8zM37.3 329.5h0.8v0.8h-0.8zM37.6 333.3h0.8v0.8h-0.8zM33.9 328.8h0.8v0.8h-0.8zM36.5 328.1h0.8v0.8h-0.8zM38.1 330.7h0.8v0.8h-0.8zM28.2 331.4h0.8v0.8h-0.8zM36.3 337.4h0.8v0.8h-0.8zM30.4 340.8h0.8v0.8h-0.8zM35.8 326.3h0.8v0.8h-0.8zM33.2 326.9h0.8v0.8h-0.8zM34.1 330.9h0.8v0.8h-0.8zM42.5 330.1h0.8v0.8h-0.8zM32.5 325.3h0.8v0.8h-0.8zM34.2 333.5h0.8v0.8h-0.8zM33.5 334.1h0.8v0.8h-0.8zM39.9 321.1h0.8v0.8h-0.8zM23.2 330.0h0.8v0.8h-0.8zM31.7 340.0h0.8v0.8h-0.8zM31.0 325.7h0.8v0.8h-0.8zM30.7 358.4h0.8v0.8h-0.8zM33.1 333.5h0.8v0.8h-0.8zM31.6 331.9h0.8v0.8h-0.8zM36.0 328.9h0.8v0.8h-0.8zM28.5 329.9h0.8v0.8h-0.8zM36.7 349.0h0.8v0.8h-0.8zM35.1 326.9h0.8v0.8h-0.8zM36.2 324.7h0.8v0.8h-0.8zM26.7 336.1h0.8v0.8h-0.8zM31.0 329.3h0.8v0.8h-0.8zM30.2 343.7h0.8v0.8h-0.8zM30.2 338.0h0.8v0.8h-0.8zM29.0 318.2h0.8v0.8h-0.8zM37.0 329.4h0.8v0.8h-0.8zM26.6 325.7h0.8v0.8h-0.8zM35.7 352.7h0.8v0.8h-0.8zM35.2 328.6h0.8v0.8h-0.8zM33.7 344.2h0.8v0.8h-0.8z" fill="rgb(40,40,40)" opacity="0.55"/>
<path d="M34.8 352.9h0.8v0.8h-0.8zM34.4 347.9h0.8v0.8h-0.8zM33.7 348.6h0.8v0.8h-0.8zM33.7 349.0h0.8v0.8h-0.8zM29.9 346.3h0.8v0.8h-0.8zM31.5 343.7h0.8v0.8h-0.8zM33.0 355.7h0.8v0.8h-0.8zM38.2 343.1h0.8v0.8h-0.8zM37.2 350.5h0.8v0.8h-0.8zM31.7 351.2h0.8v0.8h-0.8zM28.7 340.2h0.8v0.8h-0.8zM32.9 348.9h0.8v0.8h-0.8zM30.9 348.8h0.8v0.8h-0.8z" fill="rgb(160,160,160)" opacity="0.35"/>
<path d="M26.1 358.4h0.8v0.8h-0.8zM34.8 352.5h0.8v0.8h-0.8zM32.5 346.7h0.8v0.8h-0.8zM32.0 347.5h0.8v0.8h-0.8zM39.9 351.0h0.8v0.8h-0.8zM36.4 349.3h0.8v0.8h-0.8zM29.6 351.8h0.8v0.8h-0.8z" fill="rgb(140,140,140)" opacity="0.35"/>
<path d="M30.1 352.9h0.8v0.8h-0.8zM33.7 347.7h0.8v0.8h-0.8zM34.1 348.0h0.8v0.8h-0.8zM28.1 348.4h0.8v0.8h-0.8zM32.1 355.4h0.8v0.8h-0.8zM33.6 355.2h0.8v0.8h-0.8zM31.9 347.3h0.8v0.8h-0.8zM30.2 350.3h0.8v0.8h-0.8zM34.2 345.5h0.8v0.8h-0.8zM33.6 352.4h0.8v0.8h-0.8zM29.4 348.9h0.8v0.8h-0.8zM35.4 347.0h0.8v0.8h-0.8zM32.1 346.1h0.8v0.8h-0.8z" fill="rgb(100,100,100)" opacity="0.35"/>
<path d="M32.3 348.5h0.8v0.8h-0.8zM31.4 345.8h0.8v0.8h-0.8zM30.3 349.8h0.8v0.8h-0.8zM33.1 352.3h0.8v0.8h-0.8zM29.7 351.9h0.8v0.8h-0.8zM33.3 353.7h0.8v0.8h-0.8zM34.4 353.1h0.8v0.8h-0.8zM33.7 351.4h0.8v0.8h-0.8zM41.9 356.6h0.8v0.8h-0.8z" fill="rgb(80,80,80)" opacity="0.35"/>
<path d="M36.0 350.0h0.8v0.8h-0.8zM30.5 353.1h0.8v0.8h-0.8zM32.5 349.8h0.8v0.8h-0.8zM25.9 348.7h0.8v0.8h-0.8zM31.5 347.9h0.8v0.8h-0.8zM32.7 342.5h0.8v0.8h-0.8zM27.3 350.6h0.8v0.8h-0.8zM34.9 351.2h0.8v0.8h-0.8zM28.8 347.2h0.8v0.8h-0.8z" fill="rgb(120,120,120)" opacity="0.35"/>
<path d="M32.5 352.5h0.8v0.8h-0.8zM32.5 346.4h0.8v0.8h-0.8zM34.3 353.7h0.8v0.8h-0.8zM27.1 347.5h0.8v0.8h-0.8zM29.7 356.4h0.8v0.8h-0.8zM30.1 351.4h0.8v0.8h-0.8zM35.7 346.5h0.8v0.8h-0.8zM27.4 346.4h0.8v0.8h-0.8zM30.3 349.1h0.8v0.8h-0.8z" fill="rgb(180,180,180)" opacity="0.35"/>
<rect x="20.3" y="302.2" width="26" height="21.2" fill="none" stroke="#666" stroke-width="0.8"/>
<rect x="48.4" y="315.3" width="13.2" height="4.6" fill="#fff" stroke="#ccc" stroke-width="0.5"/>
<text x="55" y="319" font-size="3.8" text-anchor="middle" fill="#111" stroke="#111" stroke-width="0.2">bright</text>
<text x="190.6" y="4.8" font-size="6.4" textLength="17.4" lengthAdjust="spacingAndGlyphs" stroke="#000" stroke-width="0.18">CCR2</text>
<rect x="186.5" y="6.25" width="27.5" height="26.5" fill="none" stroke="#cfcfcf" stroke-width="0.7"/>
<line x1="186.5" y1="32.75" x2="214" y2="32.75" stroke="#999" stroke-width="0.7"/>
<rect x="186.5" y="36.25" width="27.5" height="26.25" fill="none" stroke="#cfcfcf" stroke-width="0.7"/>
<line x1="186.5" y1="62.5" x2="214" y2="62.5" stroke="#999" stroke-width="0.7"/>
<path d="M188.5 32.75 L190.75 25 L193 32.75 Z" fill="#fff" stroke="#444" stroke-width="0.6"/>
<path d="M190.5 32.75 L193.5 25.5 L196.5 32.75 Z" fill="#111" stroke="none" stroke-width="0.6"/>
<path d="M187.5 62.5 L190.25 54 L193 62.5 Z" fill="#111" stroke="none" stroke-width="0.6"/>
<text x="173.9" y="21.6" font-size="5.8" textLength="5.8" lengthAdjust="spacingAndGlyphs" stroke="#000" stroke-width="0.18">ctr</text>
<text x="164.8" y="47.8" font-size="5.6" textLength="19.8" lengthAdjust="spacingAndGlyphs" stroke="#000" stroke-width="0.18">sHLA-G</text>
<text x="355.6" y="5" font-size="6.6" textLength="23" lengthAdjust="spacingAndGlyphs" stroke="#000" stroke-width="0.18">CXCR3</text>
<rect x="352.3" y="6.6" width="29.0" height="26.6" fill="none" stroke="#cfcfcf" stroke-width="0.7"/>
<line x1="352.3" y1="33.2" x2="381.3" y2="33.2" stroke="#999" stroke-width="0.7"/>
<rect x="352.3" y="35.5" width="29.0" height="26.0" fill="none" stroke="#cfcfcf" stroke-width="0.7"/>
<line x1="352.3" y1="61.5" x2="381.3" y2="61.5" stroke="#999" stroke-width="0.7"/>
<path d="M354.5 33.2 L356 21.6 L359 33.2 Z" fill="#ddd" stroke="#888" stroke-width="0.6"/>
<path d="M360.5 33.2 Q363 32.5 364 29.5 Q365 27 366 28 Q367.5 31 370 33.2 Z" fill="#1a1a1a"/>
<path d="M355.6 61.5 L357.2 50.8 L358.6 56 L359.8 60 L362 61.5 Z" fill="#1a1a1a"/>
<text x="339.1" y="21.5" font-size="5.8" textLength="5.8" lengthAdjust="spacingAndGlyphs" stroke="#000" stroke-width="0.18">ctr</text>
<text x="330" y="48.9" font-size="5.4" textLength="20" lengthAdjust="spacingAndGlyphs" stroke="#000" stroke-width="0.18">sHLA-G</text>
<text x="355.8" y="144.3" font-size="6.6" textLength="22.7" lengthAdjust="spacingAndGlyphs" stroke="#000" stroke-width="0.18">CXCR3</text>
<rect x="352.5" y="146" width="28.0" height="26.400000000000006" fill="none" stroke="#cfcfcf" stroke-width="0.7"/>
<line x1="352.5" y1="172.4" x2="380.5" y2="172.4" stroke="#999" stroke-width="0.7"/>
<rect x="352.5" y="176.4" width="28.0" height="26.0" fill="none" stroke="#cfcfcf" stroke-width="0.7"/>
<line x1="352.5" y1="202.4" x2="380.5" y2="202.4" stroke="#999" stroke-width="0.7"/>
<path d="M355.2 172.4 L356.8 169 L357.8 164 L358.8 168.5 L361 167.8 L363.5 169.6 L366 168.6 L369 172.4 Z" fill="#222"/>
<path d="M356.5 172.4 L357.5 162.4 L358.8 172.4 Z" fill="#ddd" stroke="#888" stroke-width="0.6"/>
<path d="M356.2 202.4 L357.8 189 L359.2 196 L360.2 201 L364 202 L364 202.4 Z" fill="#222"/>
<text x="338.8" y="161.4" font-size="5.8" textLength="5.5" lengthAdjust="spacingAndGlyphs" stroke="#000" stroke-width="0.18">ctr</text>
<text x="330" y="189.4" font-size="5.6" textLength="20" lengthAdjust="spacingAndGlyphs" stroke="#000" stroke-width="0.18">sHLA-G</text>
<text x="490.5" y="135.6" font-size="6.3" textLength="24.4" lengthAdjust="spacingAndGlyphs" stroke="#000" stroke-width="0.18">CX3CR1</text>
<line x1="492.5" y1="142.5" x2="520" y2="142.5" stroke="#ccc" stroke-width="0.7"/>
<line x1="492.5" y1="142.5" x2="492.5" y2="165" stroke="#aaa" stroke-width="0.7"/>
<line x1="492.5" y1="165.1" x2="520" y2="165.1" stroke="#aaa" stroke-width="0.7"/>
<line x1="492.5" y1="167.8" x2="520" y2="167.8" stroke="#e4e4e4" stroke-width="0.7"/>
<line x1="492.5" y1="167.8" x2="492.5" y2="192.4" stroke="#aaa" stroke-width="0.7"/>
<line x1="492.5" y1="192.4" x2="520" y2="192.4" stroke="#aaa" stroke-width="0.7"/>
<path d="M493 165.1 L494.3 144.8 L498.6 165.1 Z" fill="#ddd" stroke="#aaa" stroke-width="0.6"/>
<path d="M501.3 165.1 L505 153.3 L508.5 165.1 Z" fill="#111" stroke="none" stroke-width="0.6"/>
<path d="M492.8 192.4 L496.5 184 L499.5 187.5 L502.5 185.5 L504.5 188 L507 192.4 Z" fill="#222"/>
<path d="M493.2 192.4 L494 169 L495.2 192.4 Z" fill="#eee" stroke="#bbb" stroke-width="0.6"/>
<text x="477.9" y="152.6" font-size="5.8" textLength="6.5" lengthAdjust="spacingAndGlyphs" stroke="#000" stroke-width="0.18">ctr</text>
<text x="469.1" y="178.3" font-size="5.6" textLength="20" lengthAdjust="spacingAndGlyphs" stroke="#000" stroke-width="0.18">sHLA-G</text>
<text x="299.2" y="301.1" font-size="6.4" textLength="17.7" lengthAdjust="spacingAndGlyphs" stroke="#000" stroke-width="0.18">CCR2</text>
<text x="330" y="301.1" font-size="6.4" textLength="21.6" lengthAdjust="spacingAndGlyphs" stroke="#000" stroke-width="0.18">CXCR3</text>
<text x="278.4" y="318.8" font-size="6" textLength="6.6" lengthAdjust="spacingAndGlyphs" stroke="#000" stroke-width="0.18">ctr</text>
<text x="273.4" y="346.8" font-size="6" textLength="20.3" lengthAdjust="spacingAndGlyphs" stroke="#000" stroke-width="0.18">sHLA-G</text>
<line x1="297.3" y1="305" x2="297.3" y2="332.5" stroke="#999" stroke-width="0.7" stroke-dasharray="1 1"/>
<line x1="296.8" y1="332.5" x2="324.8" y2="332.5" stroke="#999" stroke-width="0.7"/>
<line x1="326.0" y1="305" x2="326.0" y2="332.5" stroke="#999" stroke-width="0.7" stroke-dasharray="1 1"/>
<line x1="325.5" y1="332.5" x2="353.5" y2="332.5" stroke="#999" stroke-width="0.7"/>
<line x1="297.3" y1="333" x2="297.3" y2="360.5" stroke="#999" stroke-width="0.7" stroke-dasharray="1 1"/>
<line x1="296.8" y1="360.5" x2="324.8" y2="360.5" stroke="#999" stroke-width="0.7"/>
<line x1="326.0" y1="333" x2="326.0" y2="360.5" stroke="#999" stroke-width="0.7" stroke-dasharray="1 1"/>
<line x1="325.5" y1="360.5" x2="353.5" y2="360.5" stroke="#999" stroke-width="0.7"/>
<rect x="325.5" y="333" width="28" height="27.5" fill="none" stroke="#999" stroke-width="0.7"/>
<path d="M297.5 332 L299 317.3 L302 332 Z" fill="#eee" stroke="#999" stroke-width="0.6"/>
<path d="M300.5 332 L303 324.5 L306 332 Z" fill="#111" stroke="none" stroke-width="0.6"/>
<path d="M327.5 332 L328.5 317.5 L330.5 332 Z" fill="#eee" stroke="#999" stroke-width="0.6"/>
<path d="M333 332 L336 326 L339 332 Z" fill="#111" stroke="none" stroke-width="0.6"/>
<path d="M297.5 360.5 L299 344 L301.5 360.5 Z" fill="#eee" stroke="#999" stroke-width="0.6"/>
<path d="M298.5 360.5 L301 349.6 L303.5 360.5 Z" fill="#111" stroke="none" stroke-width="0.6"/>
<path d="M327.5 360.5 L328.8 341 L331.8 360.5 Z" fill="#111" stroke="none" stroke-width="0.6"/>
</svg>
</body></html>
